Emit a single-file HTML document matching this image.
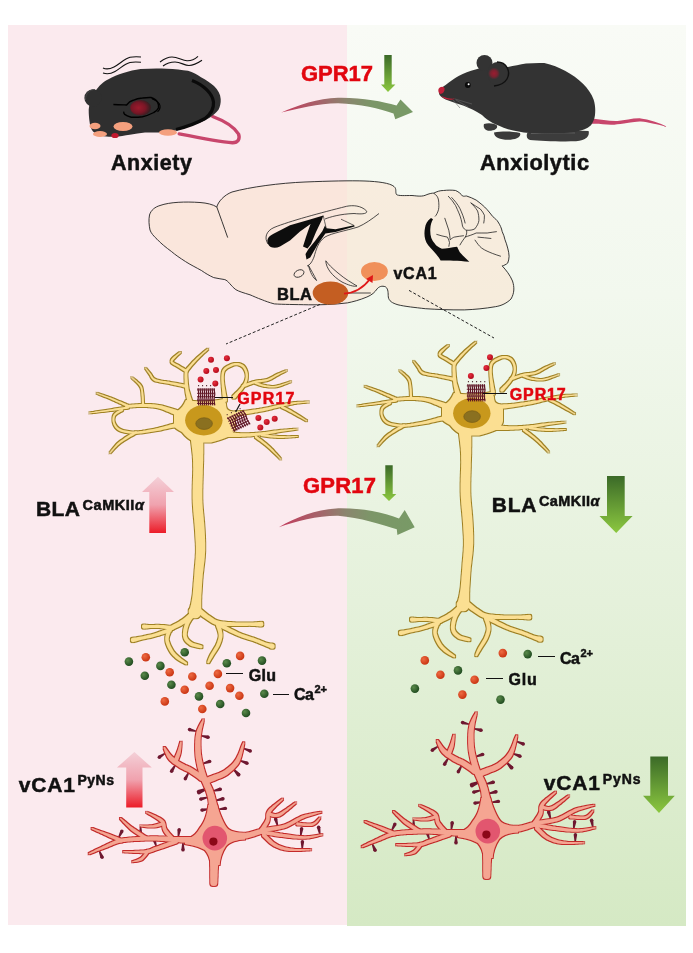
<!DOCTYPE html>
<html><head><meta charset="utf-8">
<style>
html,body{margin:0;padding:0;background:#fff;width:693px;height:953px;overflow:hidden}
svg{display:block;filter:blur(0.4px)}
text{font-family:"Liberation Sans",sans-serif;font-weight:bold;stroke-width:0.5px}
</style></head>
<body>
<svg width="693" height="953" viewBox="0 0 693 953">
<defs>

<linearGradient id="gbg" x1="0" y1="0" x2="0" y2="1">
<stop offset="0" stop-color="#f9fbf6"/>
<stop offset="0.3" stop-color="#f2f8ee"/>
<stop offset="0.64" stop-color="#e5f1db"/>
<stop offset="1" stop-color="#d5e9c4"/>
</linearGradient>
<linearGradient id="gdown" x1="0" y1="0" x2="0" y2="1">
<stop offset="0" stop-color="#3b6a28"/>
<stop offset="1" stop-color="#8cc840"/>
</linearGradient>
<linearGradient id="rup" x1="0" y1="0" x2="0" y2="1">
<stop offset="0" stop-color="#f4d0d8"/>
<stop offset="0.5" stop-color="#f0a2ae"/>
<stop offset="1" stop-color="#ec1c28"/>
</linearGradient>
<linearGradient id="carr" x1="0" y1="0" x2="1" y2="0">
<stop offset="0" stop-color="#c43c5c"/>
<stop offset="0.3" stop-color="#a4646a"/>
<stop offset="0.5" stop-color="#8a866e"/>
<stop offset="0.68" stop-color="#7c9668"/>
<stop offset="1" stop-color="#789a66"/>
</linearGradient>
<radialGradient id="gdot" cx="0.35" cy="0.35" r="0.7">
<stop offset="0" stop-color="#5a8a4a"/>
<stop offset="1" stop-color="#1f4a1f"/>
</radialGradient>
<radialGradient id="odot" cx="0.35" cy="0.35" r="0.7">
<stop offset="0" stop-color="#ee6a42"/>
<stop offset="1" stop-color="#c83210"/>
</radialGradient>
<radialGradient id="rdot" cx="0.35" cy="0.35" r="0.7">
<stop offset="0" stop-color="#e83040"/>
<stop offset="1" stop-color="#b00818"/>
</radialGradient>



<filter id="outY" x="-10%" y="-10%" width="120%" height="120%">
<feMorphology in="SourceAlpha" operator="dilate" radius="0.8" result="d"/>
<feFlood flood-color="#a08224"/>
<feComposite in2="d" operator="in" result="o"/>
<feMerge><feMergeNode in="o"/><feMergeNode in="SourceGraphic"/></feMerge>
</filter>
<filter id="outR" x="-10%" y="-10%" width="120%" height="120%">
<feMorphology in="SourceAlpha" operator="dilate" radius="0.8" result="d"/>
<feFlood flood-color="#c42a2a"/>
<feComposite in2="d" operator="in" result="o"/>
<feMerge><feMergeNode in="o"/><feMergeNode in="SourceGraphic"/></feMerge>
</filter>

<g id="blaN">
<g filter="url(#outY)"><g fill="#fbdf92">
<path d="M186 400 C195 402 212 402 224 399 L226 404 C226 408 227 410 230 411 C233 411.5 234.5 413 235 416 L235 428 C234.5 431 233 433 230 436 C224 439 217 441 211 442.5 L195 442.5 C190 440 186 437 182 432 C178 430 175 428 174 426 L174 413 C178 411 182 408 184 404 Z"/>
<path d="M192.4 401.4L192.0 400.5L191.6 399.2L191.1 397.8L190.6 396.2L190.1 394.5L189.6 392.8L189.1 391.2L188.7 389.7L188.5 388.2L188.3 386.7L188.1 385.1L187.9 383.6L187.8 382.1L187.7 380.6L187.6 379.2L187.5 378.0L187.4 375.7L187.4 373.7L187.5 372.0L187.5 370.8L184.9 370.6L184.8 371.8L184.6 373.5L184.5 375.7L184.5 378.0L184.6 379.3L184.6 380.7L184.6 382.2L184.7 383.8L184.8 385.4L184.9 387.1L185.1 388.7L185.3 390.3L185.5 392.0L185.8 393.7L186.2 395.5L186.5 397.3L186.9 399.0L187.2 400.5L187.5 401.7L187.6 402.6ZM184.9 370.7a1.33 1.33 0 1 0 2.66 0a1.33 1.33 0 1 0 -2.66 0ZM187.6 402.0a2.45 2.45 0 1 0 4.90 0a2.45 2.45 0 1 0 -4.90 0Z"/><path d="M186.9 369.9L185.9 369.4L184.6 368.7L183.1 367.8L181.5 366.9L179.9 365.9L178.5 365.1L176.9 364.2L175.2 363.4L173.8 362.6L172.8 361.9L172.5 361.5L172.7 360.7L173.7 359.4L175.2 357.9L176.6 356.6L178.1 355.1L179.6 353.7L180.7 352.7L180.1 352.1L178.9 352.8L177.2 354.0L175.4 355.4L174.0 356.6L172.4 358.1L171.0 359.8L170.5 361.7L171.3 363.2L172.7 364.3L174.3 365.2L175.9 366.0L177.5 366.9L178.8 367.8L180.3 368.8L181.9 369.8L183.4 370.7L184.7 371.5L185.5 372.1ZM180.0 352.4a0.42 0.42 0 1 0 0.84 0a0.42 0.42 0 1 0 -0.84 0ZM184.9 371.0a1.26 1.26 0 1 0 2.52 0a1.26 1.26 0 1 0 -2.52 0Z"/><path d="M187.2 371.8L187.9 370.9L188.9 369.6L190.0 368.2L191.3 366.6L192.6 365.1L193.8 363.7L194.9 362.5L196.0 361.3L197.1 360.1L198.2 358.9L199.4 357.8L200.6 356.6L201.7 355.5L202.9 354.3L204.2 353.1L205.5 352.0L206.6 350.9L207.6 350.0L208.3 349.3L207.7 348.7L207.0 349.3L205.9 350.1L204.7 351.1L203.3 352.1L202.0 353.3L200.6 354.4L199.4 355.4L198.2 356.5L197.0 357.6L195.8 358.8L194.6 359.9L193.4 361.1L192.2 362.3L191.0 363.7L189.6 365.2L188.3 366.7L187.0 368.1L186.0 369.3L185.2 370.2ZM207.6 349.0a0.42 0.42 0 1 0 0.84 0a0.42 0.42 0 1 0 -0.84 0ZM184.9 371.0a1.26 1.26 0 1 0 2.52 0a1.26 1.26 0 1 0 -2.52 0Z"/><path d="M185.3 384.6L184.4 384.5L183.2 384.3L181.9 384.0L180.3 383.8L178.7 383.5L177.0 383.1L175.2 382.8L173.5 382.5L171.8 382.2L170.2 381.9L168.6 381.6L167.0 381.4L165.3 381.1L163.7 380.9L162.0 380.7L160.5 380.4L159.0 380.1L157.6 379.8L156.4 379.5L155.5 379.1L153.9 378.3L153.0 377.3L152.2 376.1L151.5 374.8L150.6 373.5L149.3 372.0L148.0 370.4L146.8 368.9L145.9 367.9L145.3 368.5L146.0 369.5L147.0 371.1L148.2 372.8L149.4 374.5L150.1 375.6L150.7 376.9L151.5 378.3L152.8 379.7L154.5 380.9L155.8 381.4L157.1 381.8L158.6 382.1L160.1 382.4L161.7 382.7L163.4 383.0L165.0 383.3L166.7 383.5L168.3 383.8L169.8 384.1L171.3 384.4L173.0 384.8L174.7 385.2L176.5 385.6L178.2 385.9L179.8 386.3L181.3 386.6L182.7 386.9L183.8 387.2L184.7 387.4ZM145.2 368.2a0.42 0.42 0 1 0 0.84 0a0.42 0.42 0 1 0 -0.84 0ZM183.6 386.0a1.40 1.40 0 1 0 2.80 0a1.40 1.40 0 1 0 -2.80 0Z"/><path d="M181.0 411.4L180.1 411.1L179.1 410.8L177.9 410.5L176.6 410.0L175.1 409.5L173.5 409.0L171.9 408.5L170.2 407.9L168.5 407.4L166.7 406.9L165.1 406.4L163.4 406.0L161.9 405.6L160.4 405.3L158.7 405.0L157.0 404.7L155.4 404.5L153.7 404.3L152.2 404.2L150.6 404.1L149.1 404.1L147.6 404.0L146.1 404.0L144.5 404.0L143.0 404.0L141.4 404.0L139.7 404.1L138.0 404.2L136.2 404.3L134.4 404.4L132.8 404.6L131.2 404.7L129.7 404.8L128.4 405.0L127.3 405.1L126.4 405.1L126.6 407.7L127.5 407.6L128.6 407.6L129.9 407.5L131.4 407.4L133.0 407.3L134.6 407.2L136.3 407.1L138.1 407.0L139.8 407.0L141.4 406.9L143.0 407.0L144.5 407.0L146.0 407.1L147.5 407.1L149.0 407.2L150.4 407.3L151.9 407.4L153.4 407.6L154.9 407.8L156.4 408.0L158.0 408.3L159.6 408.7L160.9 409.1L162.3 409.6L163.8 410.1L165.4 410.7L167.0 411.4L168.7 412.0L170.3 412.7L171.8 413.4L173.3 414.1L174.8 414.7L176.1 415.3L177.2 415.8L178.2 416.3L179.0 416.6ZM125.2 406.4a1.26 1.26 0 1 0 2.52 0a1.26 1.26 0 1 0 -2.52 0ZM177.2 414.0a2.80 2.80 0 1 0 5.60 0a2.80 2.80 0 1 0 -5.60 0Z"/><path d="M128.5 405.0L127.6 404.6L126.5 404.2L125.2 403.6L123.7 403.0L122.2 402.3L120.5 401.6L118.8 400.9L117.1 400.2L115.4 399.5L113.8 398.8L112.3 398.2L110.7 397.6L108.9 397.0L107.1 396.3L105.3 395.7L103.5 395.1L101.8 394.5L100.2 393.9L98.8 393.5L97.7 393.1L96.7 392.8L96.5 393.4L97.4 393.8L98.5 394.3L99.9 394.9L101.4 395.5L103.1 396.2L104.8 396.9L106.6 397.6L108.4 398.3L110.1 399.1L111.7 399.8L113.2 400.4L114.7 401.1L116.4 401.9L118.1 402.6L119.7 403.4L121.4 404.1L122.9 404.9L124.3 405.5L125.6 406.1L126.7 406.6L127.5 407.0ZM126.9 406.0a1.12 1.12 0 1 0 2.24 0a1.12 1.12 0 1 0 -2.24 0Z"/><path d="M127.8 406.4L126.9 406.5L125.9 406.7L124.6 407.0L123.1 407.2L121.6 407.5L119.9 407.7L118.2 408.0L116.4 408.3L114.6 408.6L112.8 408.9L111.1 409.2L109.4 409.4L107.9 409.7L106.2 409.9L104.5 410.2L102.7 410.5L100.8 410.8L99.0 411.1L97.2 411.3L95.5 411.6L93.9 411.9L92.4 412.1L91.1 412.3L90.0 412.5L89.1 412.7L89.1 413.3L90.1 413.3L91.2 413.2L92.5 413.0L94.0 412.9L95.7 412.7L97.4 412.5L99.2 412.3L101.0 412.1L102.8 411.9L104.7 411.7L106.4 411.5L108.1 411.3L109.7 411.1L111.3 410.9L113.1 410.7L114.9 410.4L116.7 410.2L118.4 409.9L120.2 409.7L121.9 409.5L123.4 409.2L124.9 409.0L126.2 408.9L127.3 408.7L128.2 408.6ZM126.9 407.5a1.12 1.12 0 1 0 2.24 0a1.12 1.12 0 1 0 -2.24 0Z"/><path d="M144.1 405.0L144.1 403.9L144.0 402.3L143.9 400.5L143.8 398.6L143.7 396.6L143.5 394.9L143.3 393.3L143.1 391.8L142.9 390.3L142.6 388.7L142.1 387.1L141.2 385.6L140.3 384.3L139.0 383.1L137.7 381.9L136.3 380.6L134.9 379.5L133.6 378.5L132.5 377.7L131.7 377.0L131.3 377.6L132.0 378.3L133.0 379.2L134.2 380.3L135.5 381.5L136.8 382.8L138.0 384.1L139.0 385.3L139.8 386.4L140.5 387.8L140.9 389.2L141.1 390.6L141.3 392.0L141.4 393.5L141.5 395.1L141.7 396.8L141.8 398.7L141.8 400.6L141.9 402.4L141.9 403.9L141.9 405.0ZM141.9 405.0a1.12 1.12 0 1 0 2.24 0a1.12 1.12 0 1 0 -2.24 0Z"/><path d="M121.5 409.1L120.6 409.6L119.3 410.3L117.8 411.1L116.2 412.1L114.8 413.2L113.7 414.5L112.9 416.1L112.5 417.9L112.4 419.8L112.6 421.6L113.1 423.3L113.6 424.7L114.3 426.1L115.2 427.5L116.4 428.8L117.8 430.0L119.5 430.9L120.7 431.5L122.0 431.9L123.4 432.3L124.9 432.7L126.4 433.0L128.1 433.2L129.7 433.4L131.5 433.6L133.2 433.7L135.0 433.7L136.4 433.7L137.9 433.7L139.4 433.5L141.0 433.4L142.6 433.2L144.2 433.0L145.9 432.8L147.5 432.6L149.1 432.3L150.7 432.1L152.3 431.8L153.8 431.6L155.2 431.3L157.0 431.0L158.7 430.7L160.4 430.4L162.0 430.0L163.7 429.6L165.3 429.3L166.9 428.9L168.4 428.6L169.8 428.2L171.1 428.0L172.4 427.7L174.6 427.4L176.6 427.1L178.5 426.8L180.1 426.6L181.4 426.5L182.5 426.4L181.5 421.6L180.6 421.9L179.3 422.3L177.7 422.7L175.8 423.2L173.8 423.7L171.6 424.3L170.3 424.6L169.0 425.0L167.5 425.4L166.1 425.8L164.5 426.3L163.0 426.7L161.3 427.1L159.7 427.5L158.1 428.0L156.4 428.3L154.8 428.7L153.3 429.0L151.8 429.3L150.3 429.5L148.7 429.8L147.1 430.1L145.5 430.4L143.9 430.6L142.3 430.9L140.8 431.1L139.2 431.2L137.8 431.4L136.3 431.4L135.0 431.5L133.3 431.5L131.6 431.4L130.0 431.2L128.4 431.1L126.8 430.8L125.3 430.6L124.0 430.2L122.7 429.9L121.5 429.5L120.5 429.1L119.0 428.2L117.8 427.3L116.8 426.2L116.0 425.1L115.4 423.9L114.9 422.7L114.5 421.2L114.4 419.7L114.5 418.2L114.8 416.7L115.3 415.5L116.1 414.7L117.3 413.8L118.8 412.9L120.3 412.1L121.6 411.4L122.5 410.9ZM179.6 424.0a2.45 2.45 0 1 0 4.90 0a2.45 2.45 0 1 0 -4.90 0ZM121.0 410.0a1.05 1.05 0 1 0 2.10 0a1.05 1.05 0 1 0 -2.10 0Z"/><path d="M135.4 431.4L134.6 431.9L133.4 432.5L132.1 433.3L130.5 434.1L129.0 435.1L127.4 436.0L126.2 436.8L125.0 437.6L123.8 438.5L122.5 439.4L121.1 440.3L119.8 441.3L118.6 442.3L117.4 443.3L116.2 444.5L115.0 445.9L113.9 447.3L112.7 448.7L111.7 450.0L110.8 451.3L110.0 452.3L109.4 453.1L110.0 453.5L110.7 452.8L111.5 451.9L112.6 450.8L113.7 449.5L114.9 448.2L116.2 446.9L117.4 445.7L118.6 444.7L119.8 443.7L121.0 442.8L122.3 441.9L123.6 441.0L124.9 440.2L126.2 439.4L127.4 438.7L128.6 438.0L130.1 437.0L131.7 436.2L133.2 435.4L134.6 434.6L135.7 434.1L136.6 433.6ZM134.7 432.5a1.26 1.26 0 1 0 2.52 0a1.26 1.26 0 1 0 -2.52 0Z"/><path d="M227.1 399.7L226.9 398.8L226.6 397.6L226.3 396.2L226.0 394.6L225.7 392.9L225.4 391.2L225.1 389.4L224.8 387.8L224.5 386.2L224.3 384.9L224.1 382.8L223.9 380.9L223.8 379.2L223.8 377.6L223.8 376.1L223.9 374.8L224.1 373.0L224.5 371.6L225.0 370.6L226.1 369.4L227.1 368.6L228.6 367.8L230.2 366.9L231.9 366.2L233.5 365.6L235.0 365.3L236.5 365.2L238.1 365.3L239.5 365.7L240.8 366.2L241.9 366.9L242.9 367.8L243.7 369.0L244.4 370.3L245.0 371.8L245.4 373.2L245.6 374.7L245.7 376.2L245.6 377.7L245.3 379.2L244.9 380.7L244.4 382.0L243.8 383.2L243.0 384.5L242.1 385.8L241.0 387.2L240.1 388.3L239.0 389.4L237.9 390.7L236.6 391.9L235.4 393.1L234.3 394.2L233.4 395.1L232.7 395.8L235.3 398.2L235.9 397.4L236.7 396.4L237.7 395.3L238.9 394.0L240.0 392.6L241.1 391.2L242.2 389.9L243.0 388.8L244.1 387.2L245.1 385.8L245.9 384.3L246.5 382.9L247.1 381.3L247.5 379.7L247.8 378.0L247.9 376.2L247.9 374.5L247.6 372.8L247.1 371.1L246.5 369.4L245.6 367.8L244.5 366.3L243.3 365.1L241.8 364.2L240.2 363.5L238.4 363.1L236.5 363.0L234.6 363.1L232.9 363.5L231.1 364.1L229.2 364.9L227.5 365.8L225.9 366.8L224.5 367.8L223.2 369.2L222.3 370.8L221.8 372.5L221.5 374.4L221.4 376.0L221.3 377.6L221.3 379.3L221.4 381.1L221.5 383.1L221.7 385.1L221.7 386.5L221.9 388.1L222.0 389.8L222.2 391.6L222.3 393.4L222.5 395.1L222.6 396.7L222.8 398.2L222.9 399.4L222.9 400.3ZM232.2 397.0a1.75 1.75 0 1 0 3.50 0a1.75 1.75 0 1 0 -3.50 0ZM222.9 400.0a2.10 2.10 0 1 0 4.20 0a2.10 2.10 0 1 0 -4.20 0Z"/><path d="M243.4 387.2L244.3 386.8L245.6 386.4L247.0 385.9L248.6 385.3L250.3 384.7L252.0 384.1L253.7 383.5L255.3 383.1L256.8 382.7L258.4 382.5L260.0 382.2L261.7 382.0L263.3 381.8L264.9 381.5L266.5 381.2L268.0 380.7L269.8 380.0L271.5 379.2L273.0 378.3L274.4 377.4L275.9 376.5L277.4 375.7L278.8 374.9L280.3 374.1L281.9 373.3L283.5 372.5L284.9 371.7L286.1 371.1L287.0 370.6L286.6 370.0L285.7 370.4L284.5 370.9L283.0 371.5L281.4 372.2L279.8 372.9L278.1 373.6L276.6 374.3L275.1 375.1L273.6 376.0L272.1 376.8L270.6 377.6L269.1 378.3L267.4 378.9L266.0 379.2L264.6 379.5L263.0 379.7L261.4 379.9L259.7 380.1L258.0 380.3L256.4 380.6L254.7 380.9L253.1 381.3L251.3 381.9L249.5 382.4L247.8 383.0L246.2 383.6L244.7 384.1L243.5 384.5L242.6 384.8ZM241.7 386.0a1.26 1.26 0 1 0 2.52 0a1.26 1.26 0 1 0 -2.52 0Z"/><path d="M255.2 384.0L256.3 384.3L257.6 384.8L259.3 385.4L261.1 386.0L263.0 386.5L264.8 386.9L266.3 387.1L267.8 387.3L269.3 387.5L270.9 387.6L272.5 387.6L274.3 387.5L276.1 387.3L277.6 386.9L279.2 386.4L280.9 385.9L282.7 385.3L284.4 384.6L286.1 384.0L287.7 383.3L289.1 382.8L290.3 382.3L291.2 381.9L291.0 381.3L290.1 381.5L288.8 381.9L287.4 382.4L285.8 383.0L284.1 383.6L282.3 384.1L280.5 384.7L278.8 385.1L277.2 385.5L275.9 385.7L274.1 385.9L272.5 386.0L271.0 386.0L269.5 385.8L268.0 385.6L266.6 385.4L265.2 385.1L263.5 384.7L261.7 384.2L259.9 383.5L258.3 382.9L257.0 382.4L256.0 382.0ZM254.5 383.0a1.05 1.05 0 1 0 2.10 0a1.05 1.05 0 1 0 -2.10 0Z"/><path d="M228.2 416.4L229.1 416.3L230.2 416.1L231.5 416.0L233.0 415.8L234.6 415.6L236.3 415.4L238.1 415.2L239.9 414.9L241.7 414.7L243.5 414.4L245.2 414.2L246.7 413.9L248.3 413.7L249.9 413.5L251.5 413.2L253.2 412.9L254.8 412.6L256.5 412.4L258.1 412.1L259.7 411.8L261.3 411.5L262.8 411.2L264.3 410.9L266.0 410.5L267.6 410.2L269.2 409.8L270.8 409.4L272.3 409.0L273.8 408.6L275.3 408.2L276.7 407.9L278.2 407.5L279.7 407.2L281.3 406.8L282.9 406.4L284.4 406.1L286.0 405.7L287.6 405.4L289.1 405.0L290.6 404.7L292.2 404.4L293.7 404.1L295.1 403.9L296.8 403.6L298.5 403.4L300.3 403.2L302.1 403.0L303.9 402.9L305.5 402.7L306.9 402.6L308.1 402.5L309.0 402.3L309.0 401.7L308.0 401.6L306.8 401.6L305.4 401.6L303.8 401.7L302.1 401.7L300.2 401.8L298.4 401.8L296.6 402.0L294.9 402.1L293.4 402.3L291.8 402.5L290.3 402.8L288.7 403.0L287.1 403.3L285.6 403.6L284.0 403.9L282.4 404.2L280.8 404.5L279.3 404.8L277.7 405.1L276.2 405.5L274.7 405.8L273.2 406.1L271.7 406.5L270.2 406.8L268.6 407.2L267.0 407.5L265.4 407.8L263.7 408.1L262.3 408.4L260.8 408.6L259.2 408.9L257.6 409.1L256.0 409.4L254.4 409.6L252.7 409.8L251.1 410.1L249.5 410.3L247.9 410.5L246.3 410.7L244.8 410.8L243.1 411.0L241.4 411.1L239.6 411.2L237.8 411.3L236.0 411.3L234.3 411.4L232.7 411.5L231.2 411.5L229.9 411.5L228.7 411.6L227.8 411.6ZM225.6 414.0a2.45 2.45 0 1 0 4.90 0a2.45 2.45 0 1 0 -4.90 0Z"/><path d="M281.5 408.0L282.6 408.5L284.2 409.2L286.0 410.1L287.8 411.0L289.5 411.9L291.1 412.7L292.6 413.5L294.1 414.4L295.6 415.3L297.3 416.2L298.6 416.9L300.2 417.8L301.7 418.6L303.3 419.5L304.7 420.2L305.9 420.9L306.8 421.3L307.2 420.7L306.4 420.1L305.2 419.4L303.9 418.5L302.4 417.5L300.9 416.6L299.4 415.6L298.1 414.8L296.5 413.8L295.0 412.8L293.5 411.9L292.0 411.0L290.5 410.1L288.8 409.2L286.9 408.2L285.1 407.3L283.6 406.6L282.5 406.0ZM280.9 407.0a1.12 1.12 0 1 0 2.24 0a1.12 1.12 0 1 0 -2.24 0Z"/><path d="M224.9 436.9L225.8 436.9L226.9 436.9L228.2 436.9L229.6 436.9L231.2 436.9L232.9 436.9L234.6 436.9L236.4 436.9L238.2 436.9L240.0 436.9L241.8 436.8L243.5 436.8L245.0 436.7L246.7 436.6L248.3 436.5L250.0 436.4L251.6 436.3L253.3 436.1L254.9 436.0L256.5 435.8L258.1 435.6L259.6 435.5L261.2 435.3L262.7 435.1L264.2 434.9L265.9 434.6L267.6 434.4L269.2 434.1L270.7 433.8L272.3 433.5L273.8 433.2L275.4 432.9L276.9 432.6L278.5 432.3L280.1 432.0L281.7 431.8L283.5 431.5L285.3 431.2L287.1 430.9L289.0 430.7L290.8 430.4L292.6 430.2L294.2 429.9L295.6 429.7L296.8 429.5L297.7 429.3L297.7 428.7L296.7 428.7L295.5 428.8L294.0 428.8L292.4 429.0L290.7 429.1L288.8 429.2L287.0 429.4L285.1 429.5L283.2 429.7L281.5 429.8L279.9 430.0L278.2 430.2L276.6 430.4L275.0 430.6L273.4 430.8L271.9 431.1L270.3 431.3L268.8 431.5L267.2 431.7L265.5 431.9L263.8 432.1L262.4 432.3L260.9 432.4L259.3 432.5L257.8 432.7L256.2 432.8L254.6 432.9L253.0 433.0L251.4 433.1L249.8 433.2L248.2 433.2L246.6 433.3L245.0 433.3L243.4 433.3L241.8 433.2L240.1 433.2L238.3 433.1L236.5 433.0L234.8 432.8L233.0 432.7L231.4 432.6L229.8 432.5L228.4 432.4L227.1 432.2L226.0 432.1L225.1 432.1ZM222.6 434.5a2.45 2.45 0 1 0 4.90 0a2.45 2.45 0 1 0 -4.90 0Z"/><path d="M261.8 436.2L262.8 436.3L264.2 436.5L265.8 436.7L267.6 436.9L269.4 437.2L271.2 437.4L272.9 437.5L274.6 437.7L276.3 437.8L277.9 437.9L279.6 437.9L281.4 437.9L283.4 437.9L284.9 437.8L286.7 437.7L288.5 437.6L290.4 437.5L292.3 437.3L294.1 437.2L295.7 437.1L297.0 437.0L298.0 436.8L298.0 436.2L297.0 436.1L295.6 436.1L294.0 436.1L292.3 436.1L290.4 436.2L288.5 436.2L286.6 436.2L284.9 436.1L283.4 436.1L281.4 436.1L279.7 436.0L278.0 435.9L276.4 435.8L274.8 435.6L273.1 435.5L271.5 435.3L269.7 435.0L267.9 434.7L266.1 434.5L264.5 434.2L263.2 434.0L262.2 433.8ZM260.8 435.0a1.19 1.19 0 1 0 2.38 0a1.19 1.19 0 1 0 -2.38 0Z"/><path d="M255.3 438.0L256.2 438.6L257.4 439.4L258.8 440.5L260.4 441.6L261.9 442.7L263.3 443.8L264.5 444.7L265.6 445.6L266.7 446.6L267.9 447.5L269.0 448.5L270.2 449.5L271.4 450.7L272.5 451.7L273.8 452.9L275.2 454.2L276.5 455.6L277.8 456.8L279.0 458.0L280.0 458.9L280.7 459.6L281.3 459.2L280.6 458.4L279.7 457.3L278.6 456.1L277.5 454.7L276.2 453.3L274.9 451.9L273.7 450.5L272.6 449.3L271.4 448.2L270.3 447.1L269.1 446.1L268.0 445.1L266.9 444.1L265.8 443.1L264.7 442.2L263.2 441.0L261.7 439.8L260.2 438.7L258.7 437.6L257.6 436.7L256.7 436.0ZM254.8 437.0a1.19 1.19 0 1 0 2.38 0a1.19 1.19 0 1 0 -2.38 0Z"/><path d="M190.7 438.4L190.9 439.3L191.0 440.5L191.2 441.9L191.4 443.4L191.6 445.1L191.8 446.8L192.0 448.6L192.2 450.4L192.4 452.1L192.6 453.7L192.8 455.2L192.8 456.6L192.9 458.0L193.0 459.2L193.0 460.4L193.1 461.7L193.1 463.0L193.1 464.4L193.1 466.0L193.2 467.8L193.2 469.9L193.2 471.1L193.1 472.3L193.1 473.6L193.1 474.9L193.0 476.3L193.0 477.7L192.9 479.2L192.9 480.8L192.8 482.3L192.8 483.9L192.7 485.5L192.7 487.2L192.7 488.8L192.6 490.5L192.6 492.1L192.6 493.7L192.6 495.4L192.6 497.0L192.6 498.6L192.7 500.1L192.7 501.7L192.8 503.3L192.9 504.9L193.0 506.4L193.1 508.0L193.2 509.6L193.3 511.2L193.5 512.8L193.6 514.4L193.8 515.9L193.9 517.5L194.1 519.0L194.2 520.5L194.3 522.0L194.5 523.5L194.6 524.9L194.7 526.3L194.8 527.7L194.9 529.0L195.0 530.3L195.1 532.1L195.2 533.8L195.3 535.5L195.4 537.1L195.5 538.6L195.6 540.2L195.7 541.6L195.8 543.1L195.8 544.5L195.9 545.9L195.9 547.4L195.9 548.8L195.9 550.3L195.9 551.9L195.9 553.3L195.8 554.8L195.7 556.3L195.7 557.8L195.6 559.3L195.4 560.9L195.3 562.4L195.2 564.0L195.0 565.5L194.9 567.1L194.8 568.6L194.6 570.1L194.5 571.7L194.4 573.2L194.3 574.7L194.2 576.3L194.0 578.0L193.9 579.7L193.8 581.4L193.6 583.0L193.5 584.6L193.4 586.2L193.3 587.8L193.1 589.3L193.0 590.7L192.9 592.1L192.8 593.4L192.7 594.7L192.4 596.7L192.1 598.6L191.8 600.2L191.6 601.7L191.3 603.0L191.1 604.2L190.8 605.3L190.3 607.2L189.8 608.7L189.2 609.9L188.8 610.8L201.2 613.2L201.1 612.2L201.1 610.7L201.2 608.8L201.2 606.7L201.2 605.3L201.2 604.0L201.2 602.6L201.2 601.0L201.2 599.3L201.3 597.4L201.3 595.3L201.4 594.1L201.5 592.8L201.6 591.4L201.7 589.9L201.8 588.4L201.9 586.9L202.0 585.3L202.1 583.6L202.2 582.0L202.3 580.3L202.4 578.7L202.6 577.0L202.7 575.3L202.8 573.9L203.0 572.5L203.2 571.0L203.4 569.5L203.5 568.0L203.7 566.4L203.9 564.9L204.1 563.3L204.3 561.7L204.5 560.1L204.6 558.5L204.8 556.9L204.9 555.3L205.0 553.7L205.1 552.1L205.2 550.5L205.2 548.9L205.2 547.3L205.2 545.8L205.2 544.3L205.2 542.8L205.1 541.2L205.1 539.7L205.0 538.2L205.0 536.6L204.9 535.0L204.8 533.3L204.7 531.5L204.6 529.7L204.5 528.4L204.4 527.0L204.3 525.5L204.2 524.1L204.1 522.6L203.9 521.2L203.8 519.6L203.7 518.1L203.5 516.6L203.4 515.1L203.2 513.5L203.1 512.0L203.0 510.4L202.8 508.9L202.7 507.3L202.6 505.8L202.5 504.3L202.4 502.8L202.4 501.3L202.3 499.9L202.3 498.4L202.3 496.9L202.3 495.3L202.3 493.8L202.3 492.2L202.3 490.6L202.3 489.0L202.4 487.4L202.4 485.8L202.4 484.2L202.5 482.6L202.5 481.1L202.6 479.5L202.6 478.1L202.7 476.6L202.7 475.2L202.8 473.8L202.8 472.5L202.8 471.2L202.8 470.1L202.9 468.0L203.0 466.1L203.0 464.5L203.1 463.1L203.1 461.7L203.2 460.4L203.2 459.1L203.2 457.8L203.2 456.4L203.2 454.8L203.3 453.2L203.3 451.5L203.3 449.7L203.3 447.9L203.3 446.1L203.3 444.3L203.2 442.6L203.2 441.1L203.2 439.7L203.2 438.5L203.3 437.6ZM188.7 612.0a6.30 6.30 0 1 0 12.60 0a6.30 6.30 0 1 0 -12.60 0ZM190.7 438.0a6.30 6.30 0 1 0 12.60 0a6.30 6.30 0 1 0 -12.60 0Z"/><path d="M192.9 609.7L192.2 610.4L191.3 611.3L190.2 612.5L189.0 613.7L187.8 614.9L186.6 616.0L185.5 617.0L184.2 618.0L183.0 618.9L181.8 619.7L180.5 620.6L179.2 621.4L177.8 622.2L176.5 623.0L174.9 623.8L173.3 624.6L171.7 625.4L170.3 626.1L169.0 626.7L168.1 627.1L169.9 630.9L170.8 630.5L172.1 629.9L173.6 629.2L175.2 628.5L176.9 627.7L178.5 626.9L180.0 626.2L181.5 625.4L182.9 624.6L184.4 623.7L185.7 622.9L187.1 622.0L188.5 621.0L189.9 620.1L191.3 619.0L192.7 617.8L194.1 616.7L195.3 615.7L196.3 614.9L197.1 614.3ZM166.9 629.0a2.07 2.07 0 1 0 4.14 0a2.07 2.07 0 1 0 -4.14 0ZM191.8 612.0a3.15 3.15 0 1 0 6.30 0a3.15 3.15 0 1 0 -6.30 0Z"/><path d="M172.3 626.0L171.3 626.0L170.1 625.8L168.5 625.7L166.9 625.5L165.1 625.3L163.3 625.1L161.6 625.0L160.1 624.9L158.2 624.8L156.4 624.8L154.6 624.9L152.9 625.0L151.4 625.0L150.0 625.1L148.1 624.9L146.4 624.8L145.0 624.7L144.0 624.5L144.0 628.7L145.0 628.5L146.4 628.4L148.1 628.3L150.0 628.1L151.5 628.1L153.0 628.1L154.7 628.0L156.4 628.0L158.1 628.0L159.9 628.1L161.3 628.3L162.9 628.5L164.7 628.8L166.4 629.0L168.0 629.3L169.5 629.6L170.8 629.8L171.7 630.0ZM141.9 626.6a2.07 2.07 0 1 0 4.14 0a2.07 2.07 0 1 0 -4.14 0ZM170.0 628.0a1.98 1.98 0 1 0 3.96 0a1.98 1.98 0 1 0 -3.96 0Z"/><path d="M169.4 628.1L168.5 628.5L167.3 628.9L165.9 629.4L164.4 630.0L162.7 630.6L161.0 631.2L159.3 631.8L157.6 632.4L156.0 633.0L154.6 633.4L152.8 633.9L151.1 634.4L149.4 634.8L147.8 635.1L146.2 635.5L144.6 635.8L143.1 636.2L141.7 636.5L139.8 636.8L138.0 637.1L136.3 637.4L134.8 637.6L133.5 637.8L132.5 637.9L133.5 642.1L134.4 641.8L135.6 641.4L137.1 641.0L138.7 640.5L140.5 640.0L142.3 639.5L143.7 639.2L145.2 638.9L146.8 638.6L148.5 638.2L150.2 637.9L151.9 637.5L153.7 637.0L155.4 636.6L157.0 636.1L158.6 635.7L160.4 635.1L162.1 634.6L163.9 634.0L165.6 633.5L167.2 633.0L168.6 632.5L169.7 632.1L170.6 631.9ZM130.8 640.0a2.16 2.16 0 1 0 4.32 0a2.16 2.16 0 1 0 -4.32 0ZM168.0 630.0a1.98 1.98 0 1 0 3.96 0a1.98 1.98 0 1 0 -3.96 0Z"/><path d="M167.2 630.4L166.9 631.4L166.5 632.7L166.0 634.3L165.5 636.1L165.2 638.2L165.3 640.2L165.6 641.9L166.1 643.7L166.8 645.4L167.5 647.2L168.4 648.9L169.2 650.5L170.1 651.9L171.1 653.4L172.2 654.8L173.3 656.0L174.5 657.1L175.7 658.2L177.0 659.3L178.5 660.3L180.1 661.3L181.8 662.2L183.4 663.1L184.7 663.8L185.7 664.2L186.7 662.6L185.9 661.9L184.6 661.0L183.2 660.0L181.7 658.9L180.3 657.8L179.0 656.7L177.9 655.7L176.8 654.7L175.7 653.7L174.7 652.6L173.8 651.4L172.9 650.1L172.2 648.8L171.4 647.3L170.6 645.8L170.0 644.2L169.4 642.6L168.9 641.1L168.7 639.8L168.7 638.4L169.0 636.9L169.4 635.3L170.0 633.9L170.5 632.5L170.8 631.6ZM185.2 663.4a0.99 0.99 0 1 0 1.98 0a0.99 0.99 0 1 0 -1.98 0ZM167.1 631.0a1.89 1.89 0 1 0 3.78 0a1.89 1.89 0 1 0 -3.78 0Z"/><path d="M191.1 612.8L190.6 613.6L189.8 614.8L188.9 616.3L187.8 617.9L186.8 619.7L185.9 621.5L185.2 623.3L184.6 624.9L184.1 626.5L183.7 628.2L183.3 630.0L183.1 631.8L182.9 633.5L182.9 635.2L183.2 636.8L183.8 638.7L184.7 640.4L185.9 641.9L187.2 643.2L188.6 644.3L190.1 645.4L191.9 646.2L193.9 646.8L196.0 647.3L197.9 647.7L199.5 648.0L200.7 648.2L201.3 645.2L200.2 644.9L198.6 644.5L196.8 644.1L194.9 643.6L193.2 643.0L191.9 642.2L190.8 641.4L189.6 640.5L188.6 639.5L187.8 638.4L187.2 637.2L186.8 636.0L186.7 635.0L186.8 633.7L186.9 632.3L187.2 630.7L187.5 629.1L187.9 627.6L188.4 626.1L188.8 624.7L189.5 623.2L190.4 621.7L191.4 620.1L192.4 618.7L193.4 617.3L194.3 616.1L194.9 615.2ZM199.5 646.7a1.53 1.53 0 1 0 3.06 0a1.53 1.53 0 1 0 -3.06 0ZM190.8 614.0a2.25 2.25 0 1 0 4.50 0a2.25 2.25 0 1 0 -4.50 0Z"/><path d="M196.3 612.1L197.3 612.8L198.7 613.9L200.3 615.1L201.9 616.3L203.1 617.2L204.4 618.1L205.8 619.1L207.3 620.1L208.7 621.0L209.9 621.7L211.0 622.4L212.2 623.2L213.7 624.0L215.5 624.7L217.6 625.2L219.0 625.4L220.5 625.6L222.0 625.7L223.6 625.8L225.3 625.8L227.0 625.9L228.8 625.9L230.5 626.0L232.1 626.0L233.7 626.0L235.2 626.0L237.0 626.0L238.8 626.0L240.5 626.0L242.2 626.0L243.9 626.0L245.5 625.9L247.1 625.9L248.6 625.8L250.0 625.8L251.9 625.9L253.7 626.0L255.6 626.1L257.2 626.2L258.8 626.3L260.0 626.4L261.0 626.5L261.0 621.9L260.0 622.0L258.8 622.1L257.2 622.2L255.6 622.3L253.7 622.4L251.9 622.5L250.0 622.6L248.5 622.6L247.0 622.6L245.4 622.6L243.8 622.6L242.2 622.6L240.5 622.5L238.8 622.5L237.1 622.5L235.4 622.4L233.9 622.3L232.3 622.2L230.6 622.1L228.9 622.0L227.2 621.9L225.6 621.8L223.9 621.6L222.4 621.4L221.0 621.3L219.7 621.0L218.6 620.8L216.9 620.3L215.6 619.8L214.5 619.2L213.5 618.6L212.4 617.8L211.3 617.0L209.9 616.1L208.6 615.2L207.3 614.2L206.1 613.2L204.9 612.3L203.4 611.1L201.9 609.8L200.6 608.7L199.7 607.9ZM258.7 624.2a2.34 2.34 0 1 0 4.68 0a2.34 2.34 0 1 0 -4.68 0ZM195.3 610.0a2.70 2.70 0 1 0 5.40 0a2.70 2.70 0 1 0 -5.40 0Z"/><path d="M217.1 625.8L217.9 626.2L218.9 626.7L220.1 627.3L221.4 628.0L222.8 628.7L224.3 629.5L226.0 630.3L227.6 631.1L229.3 632.0L230.9 632.8L232.6 633.5L234.2 634.3L235.7 635.0L237.1 635.6L238.7 636.2L240.3 636.8L241.9 637.4L243.4 638.0L245.0 638.5L246.5 639.0L248.0 639.4L249.4 639.9L250.8 640.3L252.1 640.7L253.3 641.1L254.4 641.5L256.2 642.2L257.9 642.8L259.3 643.4L260.7 644.0L261.9 644.5L263.2 645.0L264.5 645.5L266.6 646.5L268.6 647.3L270.3 648.1L271.4 648.6L272.8 643.8L271.5 643.6L269.8 643.4L267.7 643.0L265.5 642.5L264.4 642.0L263.2 641.5L261.9 641.0L260.6 640.5L259.1 639.8L257.4 639.2L255.6 638.5L254.4 638.0L253.1 637.6L251.8 637.2L250.4 636.7L249.0 636.3L247.5 635.8L246.0 635.3L244.5 634.8L243.0 634.2L241.5 633.7L240.0 633.1L238.5 632.4L237.1 631.8L235.7 631.1L234.2 630.3L232.6 629.5L230.9 628.7L229.3 627.8L227.7 626.9L226.1 626.1L224.6 625.3L223.2 624.5L221.9 623.8L220.7 623.2L219.8 622.6L218.9 622.2ZM269.6 646.2a2.52 2.52 0 1 0 5.04 0a2.52 2.52 0 1 0 -5.04 0ZM215.9 624.0a2.07 2.07 0 1 0 4.14 0a2.07 2.07 0 1 0 -4.14 0Z"/><path d="M216.0 625.6L216.4 626.7L217.0 628.2L217.6 630.0L218.1 631.8L218.5 633.5L218.7 635.0L218.7 636.5L218.5 638.0L218.1 639.5L217.6 641.1L217.1 642.7L216.4 644.3L215.8 645.7L215.0 647.1L214.1 648.5L213.2 650.0L212.3 651.5L211.4 652.9L210.6 654.2L209.7 656.0L208.9 657.8L208.2 659.4L207.7 660.7L207.3 661.7L209.3 662.7L209.8 661.8L210.6 660.5L211.4 659.1L212.4 657.4L213.4 655.8L214.2 654.6L215.0 653.2L216.0 651.8L217.0 650.3L217.9 648.8L218.8 647.2L219.6 645.7L220.3 644.0L221.0 642.2L221.6 640.5L222.0 638.7L222.4 636.9L222.5 635.0L222.3 632.9L221.9 630.8L221.4 628.8L220.8 626.9L220.3 625.4L220.0 624.4ZM207.2 662.2a1.08 1.08 0 1 0 2.16 0a1.08 1.08 0 1 0 -2.16 0ZM215.9 625.0a2.07 2.07 0 1 0 4.14 0a2.07 2.07 0 1 0 -4.14 0Z"/>
</g></g>
<ellipse cx="203.8" cy="420.3" rx="18.7" ry="15.2" fill="#c8981c"/>
<ellipse cx="204.1" cy="423.6" rx="8.3" ry="5.8" fill="#8a7020" stroke="#7a6018" stroke-width="0.8"/>
</g>
<g id="vcaN">
<g fill="#6e1830"><path d="M197.4 731.0L189.9 727.9L189.1 731.2L197.1 732.1Z"/><circle cx="189.5" cy="729.5" r="1.7"/><path d="M200.1 736.1L207.7 738.9L208.4 735.5L200.4 734.9Z"/><circle cx="208.1" cy="737.2" r="1.7"/><path d="M165.7 752.3L158.4 755.7L160.2 758.6L166.3 753.3Z"/><circle cx="159.3" cy="757.2" r="1.7"/><path d="M175.2 764.1L170.1 770.3L173.0 772.1L176.3 764.7Z"/><circle cx="171.6" cy="771.2" r="1.7"/><path d="M188.5 771.5L183.8 778.0L186.8 779.6L189.6 772.0Z"/><circle cx="185.3" cy="778.8" r="1.7"/><path d="M202.3 764.4L210.3 763.0L209.2 759.8L201.9 763.3Z"/><circle cx="209.7" cy="761.4" r="1.7"/><path d="M242.6 748.8L249.7 752.6L250.9 749.4L243.0 747.6Z"/><circle cx="250.3" cy="751.0" r="1.7"/><path d="M239.2 761.0L246.4 764.8L247.5 761.6L239.7 759.8Z"/><circle cx="247.0" cy="763.2" r="1.7"/><path d="M232.8 769.3L237.6 775.8L240.0 773.5L233.7 768.5Z"/><circle cx="238.8" cy="774.6" r="1.7"/><path d="M205.5 787.9L197.7 790.1L199.1 793.2L205.9 789.0Z"/><circle cx="198.4" cy="791.7" r="1.7"/><path d="M212.6 791.7L220.7 790.9L219.9 787.6L212.4 790.6Z"/><circle cx="220.3" cy="789.3" r="1.7"/><path d="M215.4 801.2L223.4 800.4L222.7 797.1L215.1 800.0Z"/><circle cx="223.0" cy="798.8" r="1.7"/><path d="M217.5 810.0L225.6 810.1L225.1 806.7L217.4 808.9Z"/><circle cx="225.4" cy="808.4" r="1.7"/><path d="M208.3 796.5L200.3 797.4L201.1 800.7L208.6 797.7Z"/><circle cx="200.7" cy="799.1" r="1.7"/><path d="M209.7 808.3L201.6 808.4L202.1 811.7L209.9 809.5Z"/><circle cx="201.9" cy="810.1" r="1.7"/><path d="M206.0 789.1L198.2 791.1L199.4 794.2L206.4 790.3Z"/><circle cx="198.8" cy="792.7" r="1.7"/><path d="M118.9 838.6L123.4 831.9L120.4 830.4L117.8 838.0Z"/><circle cx="121.9" cy="831.1" r="1.7"/><path d="M98.3 850.1L100.5 857.9L103.6 856.5L99.4 849.7Z"/><circle cx="102.1" cy="857.2" r="1.7"/><path d="M140.0 825.9L138.9 833.9L142.3 833.9L141.2 825.9Z"/><circle cx="140.6" cy="833.9" r="1.7"/><path d="M157.1 847.1L155.7 839.1L152.5 840.1L156.0 847.4Z"/><circle cx="154.1" cy="839.6" r="1.7"/><path d="M178.8 837.8L180.9 830.0L177.5 829.6L177.6 837.6Z"/><circle cx="179.2" cy="829.8" r="1.7"/><path d="M182.3 841.9L181.3 849.9L184.7 849.8L183.5 841.8Z"/><circle cx="183.0" cy="849.9" r="1.7"/><path d="M278.4 826.5L277.3 818.5L274.0 819.4L277.2 826.8Z"/><circle cx="275.6" cy="819.0" r="1.7"/><path d="M301.2 836.7L303.3 828.9L299.9 828.5L300.0 836.6Z"/><circle cx="301.6" cy="828.7" r="1.7"/><path d="M320.6 835.0L320.3 826.9L316.9 827.5L319.4 835.2Z"/><circle cx="318.6" cy="827.2" r="1.7"/><path d="M302.8 849.7L304.1 841.7L300.7 841.7L301.6 849.7Z"/><circle cx="302.4" cy="841.7" r="1.7"/><path d="M232.8 769.4L237.2 776.1L239.8 773.8L233.6 768.6Z"/><circle cx="238.5" cy="774.9" r="1.7"/></g>
<g filter="url(#outR)"><g fill="#f5a592"><path d="M208.4 805 C207 815 205 822 200 828 C197 833 194 836 190 838 L185 838.5 L185 844 C192 845 200 847 205 850 C208 853 210 858 211 865 L219.6 865 C220 858 222 852 226 846 C230 842 236 840 245 839.6 L245 832.7 C238 833 232 832 228 829 C224 825 220 815 217 805 Z"/><path d="M223.0 834.7L222.7 833.9L222.4 832.8L222.2 831.5L221.9 830.0L221.6 828.3L221.3 826.6L221.0 824.8L220.7 823.0L220.4 821.2L220.0 819.4L219.7 817.7L219.3 816.1L219.0 814.6L218.7 812.8L218.4 811.1L218.1 809.4L217.7 807.8L217.4 806.2L217.0 804.7L216.6 803.3L216.2 801.9L215.9 800.6L215.5 799.3L215.0 797.3L214.6 795.6L214.1 794.0L213.6 792.4L213.0 790.7L212.3 788.8L211.7 787.4L211.0 786.0L210.4 784.7L209.7 783.3L208.9 781.9L208.2 780.5L207.6 779.0L206.9 777.5L206.3 776.0L205.9 774.7L205.4 773.2L204.9 771.7L204.5 770.2L204.0 768.7L203.6 767.1L203.2 765.5L202.8 763.9L202.4 762.4L202.1 760.9L201.8 759.5L201.5 758.0L201.3 756.5L201.1 755.0L200.9 753.5L200.8 752.0L200.7 750.6L200.6 749.2L200.6 747.8L200.5 746.4L200.5 745.0L200.5 743.3L200.5 741.7L200.5 740.1L200.6 738.5L200.7 737.0L200.9 735.5L201.1 734.0L201.3 732.5L201.5 730.9L201.8 729.2L202.2 727.4L202.6 725.7L203.0 724.0L203.4 722.4L203.6 721.1L203.8 720.1L202.6 719.7L202.1 720.5L201.4 721.7L200.6 723.0L199.8 724.6L198.9 726.3L198.1 728.0L197.3 729.8L196.7 731.5L196.3 733.1L196.0 734.8L195.7 736.4L195.5 738.1L195.4 739.8L195.2 741.5L195.2 743.2L195.1 745.0L195.1 746.4L195.1 747.9L195.1 749.4L195.2 750.9L195.3 752.5L195.4 754.0L195.5 755.6L195.7 757.2L195.9 758.8L196.2 760.5L196.5 762.0L196.8 763.6L197.1 765.3L197.5 766.9L197.9 768.6L198.4 770.2L198.8 771.8L199.3 773.4L199.7 775.0L200.2 776.5L200.7 778.0L201.3 779.7L201.9 781.4L202.6 783.0L203.3 784.6L203.9 786.0L204.6 787.4L205.2 788.7L205.7 790.0L206.1 791.2L206.7 792.9L207.1 794.4L207.5 795.8L207.9 797.2L208.2 798.8L208.5 800.7L208.6 802.0L208.8 803.3L208.9 804.7L209.0 806.1L209.1 807.5L209.2 809.0L209.3 810.5L209.3 812.1L209.4 813.7L209.4 815.4L209.3 816.8L209.1 818.3L209.0 820.0L208.8 821.7L208.6 823.5L208.4 825.3L208.2 827.0L208.0 828.7L207.8 830.3L207.6 831.8L207.4 833.2L207.2 834.4L207.0 835.3ZM202.6 719.9a0.60 0.60 0 1 0 1.20 0a0.60 0.60 0 1 0 -1.20 0ZM207.0 835.0a8.00 8.00 0 1 0 16.00 0a8.00 8.00 0 1 0 -16.00 0Z"/><path d="M203.7 775.5L202.8 775.0L201.7 774.3L200.4 773.4L198.9 772.4L197.3 771.4L195.7 770.4L194.1 769.4L192.6 768.5L191.3 767.7L189.6 766.8L188.1 766.2L186.8 765.6L185.6 765.2L184.4 764.6L183.0 763.8L181.9 763.2L180.6 762.5L179.3 761.7L178.0 760.9L176.7 760.0L175.4 759.1L174.3 758.2L173.2 757.3L172.2 756.5L171.2 755.5L170.1 754.3L169.1 753.0L168.1 751.6L167.2 750.3L166.3 749.1L165.6 748.1L165.0 747.3L163.6 748.1L163.9 749.0L164.3 750.1L164.8 751.5L165.4 753.1L166.2 754.7L167.0 756.4L167.9 758.0L169.0 759.5L170.1 760.7L171.3 761.8L172.6 762.9L174.0 763.9L175.4 764.8L176.7 765.7L178.0 766.6L179.3 767.4L180.4 768.2L182.0 769.1L183.5 769.8L184.8 770.4L186.0 770.9L187.3 771.5L188.7 772.3L189.8 773.0L191.2 773.9L192.7 774.9L194.2 776.0L195.7 777.1L197.1 778.1L198.4 779.1L199.5 779.9L200.3 780.5ZM163.6 747.7a0.75 0.75 0 1 0 1.50 0a0.75 0.75 0 1 0 -1.50 0ZM199.0 778.0a3.00 3.00 0 1 0 6.00 0a3.00 3.00 0 1 0 -6.00 0Z"/><path d="M177.9 760.8L178.3 759.7L178.9 758.2L179.5 756.4L180.2 754.4L180.7 752.5L181.0 750.7L181.2 748.8L181.4 746.8L181.5 745.0L181.6 743.4L181.6 742.3L180.4 742.1L180.0 743.1L179.5 744.6L179.0 746.4L178.4 748.2L177.9 750.0L177.3 751.5L176.7 753.2L175.9 755.0L175.2 756.7L174.5 758.2L174.1 759.2ZM180.4 742.2a0.60 0.60 0 1 0 1.20 0a0.60 0.60 0 1 0 -1.20 0ZM173.9 760.0a2.10 2.10 0 1 0 4.20 0a2.10 2.10 0 1 0 -4.20 0Z"/><path d="M207.1 783.8L208.0 783.4L209.2 782.9L210.6 782.3L212.2 781.6L213.9 780.9L215.5 780.2L217.0 779.5L218.4 779.0L219.8 778.4L221.3 777.9L222.8 777.2L224.4 776.5L226.1 775.5L227.7 774.4L228.8 773.5L230.0 772.6L231.2 771.6L232.4 770.5L233.6 769.4L234.9 768.1L236.0 766.8L237.2 765.4L238.3 763.9L239.2 762.4L239.9 760.8L240.5 759.2L241.1 757.4L241.7 755.6L242.1 753.7L242.6 751.8L243.0 750.0L243.4 748.3L243.7 746.7L244.0 745.3L244.2 744.1L244.4 743.2L243.0 742.8L242.6 743.7L242.1 744.8L241.6 746.1L241.0 747.6L240.4 749.3L239.8 751.0L239.1 752.7L238.4 754.4L237.6 756.1L236.9 757.6L236.1 758.9L235.4 760.0L234.5 761.3L233.6 762.5L232.5 763.7L231.5 764.8L230.3 765.8L229.2 766.8L228.0 767.7L226.9 768.6L225.7 769.4L224.7 770.2L223.3 771.1L222.0 771.8L220.7 772.3L219.4 772.9L217.9 773.4L216.5 773.9L215.0 774.5L213.4 775.1L211.8 775.7L210.1 776.3L208.5 776.9L207.1 777.4L205.8 777.9L204.9 778.2ZM243.0 743.0a0.70 0.70 0 1 0 1.40 0a0.70 0.70 0 1 0 -1.40 0ZM203.0 781.0a3.00 3.00 0 1 0 6.00 0a3.00 3.00 0 1 0 -6.00 0Z"/><path d="M209.0 844.7L209.2 845.7L209.3 847.0L209.5 848.5L209.6 850.3L209.7 852.1L209.9 854.0L210.0 855.8L210.0 857.3L210.1 858.8L210.1 860.3L210.1 861.9L210.1 863.6L210.1 865.2L210.2 866.8L210.2 868.4L210.3 869.9L210.2 871.6L210.2 873.5L210.2 875.3L210.2 877.1L210.3 878.7L210.3 880.2L210.3 881.5L210.3 882.5L217.3 882.5L217.3 881.6L217.4 880.3L217.4 878.8L217.5 877.2L217.6 875.4L217.6 873.6L217.7 871.8L217.7 870.1L217.9 868.6L218.0 867.1L218.1 865.5L218.3 863.9L218.4 862.3L218.6 860.7L218.7 859.1L218.9 857.6L219.0 856.2L219.3 854.4L219.6 852.5L219.9 850.7L220.2 849.0L220.5 847.5L220.7 846.2L221.0 845.3ZM210.3 882.5a3.50 3.50 0 1 0 7.00 0a3.50 3.50 0 1 0 -7.00 0ZM209.0 845.0a6.00 6.00 0 1 0 12.00 0a6.00 6.00 0 1 0 -12.00 0Z"/><path d="M205.3 836.0L204.4 836.1L203.2 836.3L201.8 836.4L200.2 836.5L198.5 836.5L196.8 836.6L195.0 836.7L193.3 836.8L191.6 836.9L190.2 837.0L188.5 837.0L187.0 837.0L185.6 837.0L184.3 837.1L182.9 837.1L181.4 837.1L179.9 837.1L178.1 837.1L176.8 837.1L175.4 837.0L174.0 836.9L172.5 836.9L170.9 836.8L169.3 836.7L167.7 836.7L166.1 836.6L164.5 836.5L163.0 836.5L161.5 836.4L160.1 836.4L158.4 836.4L156.8 836.3L155.4 836.3L153.9 836.3L152.5 836.3L151.0 836.3L149.3 836.4L147.5 836.5L145.5 836.6L144.2 836.7L142.9 836.8L141.5 836.8L140.0 836.9L138.4 837.0L136.8 837.1L135.1 837.2L133.5 837.3L131.8 837.5L130.2 837.6L128.5 837.8L126.9 837.9L125.4 838.1L123.8 838.3L122.4 838.6L121.0 838.8L119.2 839.3L117.5 839.8L115.9 840.3L114.3 840.9L112.9 841.5L111.5 842.2L110.1 842.8L108.8 843.5L107.4 844.1L106.1 844.8L104.7 845.4L103.2 846.1L101.6 846.9L99.9 847.7L98.2 848.5L96.5 849.3L94.9 850.1L93.4 850.9L91.9 851.6L90.7 852.2L89.6 852.8L88.8 853.2L89.2 854.2L90.1 853.9L91.2 853.4L92.6 853.0L94.0 852.4L95.6 851.8L97.3 851.1L99.1 850.5L100.8 849.8L102.5 849.2L104.2 848.5L105.7 848.0L107.2 847.4L108.6 846.8L110.0 846.2L111.4 845.7L112.7 845.1L114.1 844.5L115.5 844.0L116.9 843.5L118.5 843.1L120.0 842.7L121.8 842.4L123.0 842.1L124.4 841.9L125.8 841.8L127.3 841.6L128.9 841.5L130.5 841.3L132.1 841.2L133.7 841.1L135.4 841.0L137.0 840.9L138.6 840.9L140.1 840.8L141.6 840.8L143.1 840.7L144.4 840.6L145.7 840.6L147.7 840.5L149.4 840.5L151.0 840.5L152.5 840.5L153.9 840.5L155.2 840.6L156.7 840.6L158.2 840.7L159.9 840.8L161.3 840.9L162.8 841.0L164.3 841.1L165.8 841.2L167.4 841.3L169.0 841.4L170.6 841.5L172.2 841.7L173.7 841.8L175.2 841.9L176.6 842.0L177.9 842.1L179.7 842.2L181.3 842.4L182.7 842.5L184.1 842.5L185.5 842.6L186.8 842.7L188.3 842.9L189.8 843.0L191.3 843.3L192.8 843.6L194.5 843.9L196.2 844.2L198.0 844.5L199.6 844.8L201.2 845.1L202.6 845.4L203.8 845.7L204.7 846.0ZM88.5 853.7a0.50 0.50 0 1 0 1.00 0a0.50 0.50 0 1 0 -1.00 0ZM200.0 841.0a5.00 5.00 0 1 0 10.00 0a5.00 5.00 0 1 0 -10.00 0Z"/><path d="M122.0 839.0L121.1 838.7L119.9 838.2L118.5 837.7L117.0 837.1L115.3 836.4L113.4 835.8L111.6 835.0L109.7 834.3L108.4 833.8L106.9 833.3L105.3 832.7L103.6 832.1L101.9 831.5L100.2 830.9L98.5 830.3L96.9 829.7L95.5 829.2L94.2 828.7L93.1 828.3L92.2 828.0L91.8 829.0L92.6 829.4L93.7 829.9L94.9 830.5L96.3 831.2L97.9 831.9L99.5 832.6L101.1 833.4L102.8 834.1L104.4 834.9L105.9 835.6L107.4 836.3L108.7 836.9L110.5 837.7L112.3 838.5L114.1 839.2L115.8 840.0L117.3 840.7L118.7 841.3L119.9 841.8L120.8 842.2ZM91.5 828.5a0.50 0.50 0 1 0 1.00 0a0.50 0.50 0 1 0 -1.00 0ZM119.7 840.6a1.70 1.70 0 1 0 3.40 0a1.70 1.70 0 1 0 -3.40 0Z"/><path d="M146.6 836.5L145.8 836.0L144.8 835.4L143.6 834.7L142.3 833.8L140.9 833.0L139.4 832.0L137.9 831.1L136.4 830.1L135.0 829.1L133.6 828.2L132.4 827.3L131.1 826.4L129.8 825.4L128.4 824.3L127.1 823.2L125.8 822.1L124.5 821.1L123.4 820.1L122.3 819.3L121.5 818.6L120.7 818.0L120.1 818.8L120.6 819.4L121.4 820.3L122.3 821.3L123.3 822.4L124.4 823.6L125.6 824.8L126.8 826.1L128.1 827.3L129.3 828.5L130.6 829.7L131.8 830.7L133.2 831.7L134.6 832.7L136.1 833.7L137.6 834.8L139.1 835.8L140.5 836.7L141.8 837.6L142.9 838.3L143.9 839.0L144.6 839.5ZM119.9 818.4a0.50 0.50 0 1 0 1.00 0a0.50 0.50 0 1 0 -1.00 0ZM143.8 838.0a1.80 1.80 0 1 0 3.60 0a1.80 1.80 0 1 0 -3.60 0Z"/><path d="M173.5 837.3L172.8 836.5L171.8 835.5L170.7 834.3L169.5 832.9L168.4 831.6L167.4 830.3L166.6 829.2L166.1 828.0L165.8 826.7L165.6 825.2L165.2 823.5L164.4 821.6L163.0 819.9L161.7 819.0L160.3 818.1L158.8 817.3L157.1 816.4L155.4 815.6L153.6 814.8L151.9 814.0L150.3 813.3L148.9 812.7L147.7 812.2L146.8 811.9L146.4 812.7L147.2 813.3L148.3 814.0L149.6 814.8L151.1 815.6L152.7 816.5L154.3 817.5L155.9 818.5L157.4 819.5L158.8 820.4L159.9 821.4L160.6 822.1L161.6 823.3L162.0 824.5L162.2 825.8L162.4 827.3L162.7 829.0L163.4 830.8L164.4 832.4L165.5 833.9L166.7 835.4L167.9 836.8L169.0 838.1L169.9 839.1L170.5 839.9ZM146.1 812.3a0.50 0.50 0 1 0 1.00 0a0.50 0.50 0 1 0 -1.00 0ZM170.0 838.6a2.00 2.00 0 1 0 4.00 0a2.00 2.00 0 1 0 -4.00 0Z"/><path d="M161.5 822.5L160.4 822.9L159.0 823.5L157.4 824.1L155.5 824.6L153.6 825.0L152.2 825.2L150.5 825.3L148.6 825.4L146.7 825.4L144.8 825.4L143.1 825.4L141.7 825.4L140.6 825.5L140.6 826.5L141.6 826.6L143.0 826.8L144.7 827.0L146.6 827.2L148.5 827.4L150.4 827.5L152.2 827.6L153.8 827.6L156.1 827.3L158.2 826.8L160.0 826.3L161.5 825.8L162.5 825.5ZM140.1 826.0a0.50 0.50 0 1 0 1.00 0a0.50 0.50 0 1 0 -1.00 0ZM160.4 824.0a1.60 1.60 0 1 0 3.20 0a1.60 1.60 0 1 0 -3.20 0Z"/><path d="M175.3 839.7L174.5 840.0L173.4 840.4L172.2 840.9L170.7 841.4L169.2 842.0L167.6 842.6L165.9 843.2L164.1 843.8L162.4 844.5L160.8 845.1L159.2 845.7L157.7 846.2L156.3 846.7L155.1 847.1L153.2 847.8L151.8 848.4L150.7 848.9L149.7 849.3L148.7 849.7L147.4 850.0L145.4 850.2L144.3 850.4L142.8 850.5L141.2 850.6L139.5 850.7L137.7 850.8L135.8 850.8L133.9 850.9L132.0 850.9L130.2 851.0L128.5 851.0L126.9 851.0L125.5 851.1L124.3 851.1L123.4 851.2L123.4 852.2L124.3 852.3L125.5 852.4L126.9 852.5L128.5 852.6L130.2 852.7L132.0 852.8L133.9 852.9L135.8 853.0L137.7 853.1L139.5 853.1L141.3 853.2L142.9 853.2L144.4 853.2L145.8 853.2L147.8 853.0L149.4 852.7L150.7 852.3L151.9 851.9L153.1 851.5L154.4 850.9L156.3 850.3L157.4 849.9L158.8 849.5L160.3 849.0L161.9 848.4L163.6 847.9L165.4 847.3L167.1 846.7L168.8 846.1L170.5 845.6L172.0 845.0L173.5 844.6L174.7 844.1L175.8 843.8L176.7 843.5ZM122.9 851.7a0.50 0.50 0 1 0 1.00 0a0.50 0.50 0 1 0 -1.00 0ZM174.0 841.6a2.00 2.00 0 1 0 4.00 0a2.00 2.00 0 1 0 -4.00 0Z"/><path d="M146.8 850.1L146.1 851.1L145.3 852.4L144.2 853.9L143.1 855.4L142.0 856.7L140.9 857.7L139.6 858.6L138.1 859.3L136.4 859.9L134.8 860.5L133.4 860.9L132.4 861.3L132.6 862.3L133.7 862.1L135.1 861.9L136.9 861.7L138.8 861.2L140.6 860.7L142.3 859.9L143.8 858.6L145.2 857.1L146.5 855.5L147.6 854.0L148.5 852.8L149.2 851.9ZM132.0 861.8a0.50 0.50 0 1 0 1.00 0a0.50 0.50 0 1 0 -1.00 0ZM146.5 851.0a1.50 1.50 0 1 0 3.00 0a1.50 1.50 0 1 0 -3.00 0Z"/><path d="M222.2 841.5L223.2 841.2L224.6 840.9L226.2 840.6L228.1 840.3L230.1 839.9L232.2 839.6L233.6 839.5L235.1 839.4L236.7 839.3L238.4 839.2L240.1 839.1L241.9 838.9L243.8 838.7L245.6 838.5L247.4 838.2L249.1 837.8L250.8 837.3L252.6 836.7L254.4 836.2L256.1 835.6L257.8 835.0L259.3 834.4L260.6 833.9L261.7 833.5L262.6 833.2L261.2 828.8L260.3 829.1L259.1 829.4L257.7 829.8L256.2 830.3L254.6 830.8L252.9 831.3L251.1 831.8L249.5 832.2L247.9 832.6L246.4 832.8L244.8 833.0L243.2 833.2L241.5 833.3L239.9 833.3L238.2 833.4L236.5 833.4L234.9 833.4L233.3 833.4L231.8 833.4L229.8 833.3L227.8 833.2L225.9 833.0L224.2 832.9L222.8 832.7L221.8 832.5ZM259.6 831.0a2.30 2.30 0 1 0 4.60 0a2.30 2.30 0 1 0 -4.60 0ZM217.5 837.0a4.50 4.50 0 1 0 9.00 0a4.50 4.50 0 1 0 -9.00 0Z"/><path d="M263.7 831.1L264.2 830.3L264.9 829.2L265.8 827.8L266.7 826.2L267.7 824.6L268.6 823.0L269.3 821.3L269.7 819.5L269.8 817.7L269.8 816.2L269.8 814.9L270.1 813.7L270.8 812.2L271.4 811.3L272.4 810.1L273.5 808.8L274.8 807.5L276.1 806.1L277.5 804.8L278.9 803.5L280.2 802.3L281.3 801.2L282.3 800.2L282.9 799.5L282.3 798.7L281.5 799.3L280.4 800.1L279.1 801.0L277.7 802.0L276.2 803.2L274.6 804.4L273.1 805.6L271.6 806.9L270.2 808.1L269.0 809.2L268.0 810.4L266.9 812.4L266.3 814.4L266.2 816.1L266.2 817.6L266.1 818.9L265.7 820.1L265.1 821.2L264.3 822.7L263.4 824.1L262.4 825.6L261.5 826.9L260.7 828.0L260.1 828.9ZM282.1 799.1a0.50 0.50 0 1 0 1.00 0a0.50 0.50 0 1 0 -1.00 0ZM259.8 830.0a2.10 2.10 0 1 0 4.20 0a2.10 2.10 0 1 0 -4.20 0Z"/><path d="M268.6 815.5L269.5 815.8L270.8 816.2L272.5 816.8L274.5 817.1L276.9 817.1L279.3 816.4L280.6 815.7L281.9 814.9L283.3 813.9L284.7 812.8L286.2 811.6L287.7 810.4L289.2 809.1L290.7 807.9L292.0 806.7L293.3 805.6L294.4 804.7L295.3 803.8L296.0 803.2L295.4 802.4L294.6 802.9L293.6 803.6L292.4 804.5L291.0 805.5L289.6 806.5L288.0 807.6L286.5 808.7L284.9 809.8L283.3 810.8L281.9 811.8L280.5 812.6L279.2 813.2L278.3 813.6L276.4 814.1L274.8 814.1L273.2 813.8L271.8 813.3L270.5 812.8L269.4 812.5ZM295.2 802.8a0.50 0.50 0 1 0 1.00 0a0.50 0.50 0 1 0 -1.00 0ZM267.4 814.0a1.60 1.60 0 1 0 3.20 0a1.60 1.60 0 1 0 -3.20 0Z"/><path d="M262.3 832.0L263.1 831.8L264.1 831.7L265.3 831.5L266.7 831.3L268.2 831.1L269.8 830.9L271.4 830.7L273.1 830.4L274.9 830.2L276.7 829.9L278.4 829.5L280.1 829.2L281.8 828.8L283.4 828.4L284.9 827.9L286.4 827.4L287.9 826.7L289.4 826.1L290.8 825.3L292.2 824.6L293.5 823.8L294.9 823.0L296.2 822.2L297.5 821.5L298.7 820.7L300.0 820.0L301.2 819.3L302.5 818.7L303.7 818.2L305.2 817.6L306.8 817.0L308.5 816.4L310.1 815.9L311.8 815.4L313.5 814.9L315.1 814.4L316.6 814.0L318.0 813.6L319.2 813.3L320.3 813.0L321.1 812.7L320.9 811.7L320.0 811.9L318.9 812.0L317.7 812.2L316.2 812.5L314.7 812.7L313.1 813.0L311.3 813.4L309.6 813.7L307.8 814.2L306.1 814.6L304.3 815.1L302.7 815.6L301.3 816.1L300.0 816.7L298.6 817.4L297.3 818.1L296.0 818.8L294.6 819.6L293.3 820.3L292.0 821.1L290.7 821.8L289.3 822.5L288.0 823.1L286.6 823.7L285.3 824.2L283.9 824.7L282.5 825.1L281.0 825.4L279.4 825.7L277.8 826.0L276.1 826.3L274.4 826.6L272.6 826.8L270.9 827.0L269.3 827.2L267.7 827.4L266.2 827.5L264.9 827.7L263.6 827.8L262.6 827.9L261.7 828.0ZM320.5 812.2a0.50 0.50 0 1 0 1.00 0a0.50 0.50 0 1 0 -1.00 0ZM260.0 830.0a2.00 2.00 0 1 0 4.00 0a2.00 2.00 0 1 0 -4.00 0Z"/><path d="M297.5 825.4L298.4 825.4L299.6 825.5L301.1 825.6L302.8 825.8L304.5 825.9L306.4 826.0L308.2 826.0L309.9 826.0L311.5 825.9L313.0 825.5L314.9 824.6L316.5 823.2L317.9 821.7L318.9 820.2L319.8 819.0L320.4 818.1L319.6 817.5L318.8 818.2L317.8 819.3L316.6 820.6L315.3 821.7L313.8 822.7L312.2 823.3L311.2 823.4L309.8 823.5L308.2 823.5L306.5 823.4L304.7 823.3L303.0 823.2L301.4 823.0L299.9 822.8L298.6 822.7L297.7 822.6ZM319.5 817.8a0.50 0.50 0 1 0 1.00 0a0.50 0.50 0 1 0 -1.00 0ZM296.2 824.0a1.40 1.40 0 1 0 2.80 0a1.40 1.40 0 1 0 -2.80 0Z"/><path d="M261.7 834.0L262.5 834.1L263.5 834.2L264.7 834.4L266.1 834.6L267.5 834.9L269.1 835.1L270.8 835.4L272.5 835.6L274.2 835.9L276.0 836.2L277.7 836.4L279.4 836.7L281.1 836.9L282.7 837.1L284.2 837.3L285.9 837.5L287.5 837.7L289.2 837.9L290.8 838.0L292.4 838.2L294.1 838.4L295.7 838.5L297.3 838.6L298.9 838.7L300.5 838.8L302.0 838.8L303.5 838.8L305.0 838.8L306.8 838.6L308.7 838.4L310.5 838.1L312.3 837.7L314.1 837.3L315.8 836.9L317.4 836.5L318.8 836.1L320.1 835.7L321.2 835.4L322.1 835.2L321.9 834.2L321.0 834.3L319.9 834.5L318.5 834.7L317.1 834.9L315.5 835.2L313.8 835.5L312.0 835.7L310.2 835.9L308.4 836.1L306.7 836.2L305.0 836.2L303.5 836.2L302.1 836.1L300.6 836.1L299.1 836.0L297.5 835.8L296.0 835.7L294.4 835.5L292.8 835.3L291.2 835.0L289.5 834.8L287.9 834.6L286.3 834.3L284.6 834.1L283.1 833.9L281.6 833.6L279.9 833.4L278.2 833.1L276.5 832.8L274.8 832.4L273.1 832.1L271.4 831.8L269.8 831.5L268.2 831.2L266.7 830.9L265.4 830.6L264.2 830.4L263.2 830.2L262.3 830.0ZM321.5 834.7a0.50 0.50 0 1 0 1.00 0a0.50 0.50 0 1 0 -1.00 0ZM260.0 832.0a2.00 2.00 0 1 0 4.00 0a2.00 2.00 0 1 0 -4.00 0Z"/><path d="M262.5 836.4L263.1 836.9L263.9 837.7L264.9 838.7L266.0 839.8L267.2 841.0L268.5 842.2L269.9 843.4L271.3 844.5L272.8 845.5L274.2 846.4L275.6 847.1L277.0 847.8L278.5 848.3L280.0 848.9L281.5 849.4L283.0 849.8L284.6 850.2L286.3 850.5L288.0 850.8L289.8 851.0L291.4 851.1L293.0 851.1L294.8 851.1L296.6 851.1L298.5 851.0L300.4 850.9L302.2 850.8L304.0 850.7L305.7 850.6L307.2 850.5L308.6 850.4L309.8 850.3L310.7 850.2L310.7 849.2L309.8 849.2L308.6 849.1L307.2 849.1L305.6 849.1L304.0 849.1L302.2 849.1L300.3 849.1L298.5 849.1L296.6 849.0L294.8 848.9L293.1 848.8L291.6 848.6L290.2 848.4L288.5 848.1L286.8 847.8L285.3 847.4L283.8 847.0L282.3 846.6L281.0 846.1L279.6 845.5L278.3 845.0L277.0 844.3L275.8 843.6L274.6 842.8L273.4 841.9L272.1 840.8L270.9 839.6L269.7 838.5L268.6 837.3L267.5 836.2L266.6 835.2L265.8 834.3L265.1 833.6ZM310.2 849.7a0.50 0.50 0 1 0 1.00 0a0.50 0.50 0 1 0 -1.00 0ZM261.9 835.0a1.90 1.90 0 1 0 3.80 0a1.90 1.90 0 1 0 -3.80 0Z"/></g></g>
<circle cx="214.8" cy="838.1" r="12.3" fill="#e2566f"/>
<circle cx="213.4" cy="841.6" r="4.1" fill="#8c0818"/>
</g>
</defs>
<rect x="8" y="25" width="339" height="900" fill="#fbeaee"/>
<rect x="347" y="25" width="339" height="901" fill="url(#gbg)"/>
<!-- LEFT MOUSE (curled) -->
<g id="mouseL">
<path d="M212.7 116.5 C222 120 234 126.5 238.5 134 C240.5 139 238 142.5 232.5 142.8 C222 142 200 138 179.2 133.9" fill="none" stroke="#c8466c" stroke-width="3.4" stroke-linecap="round"/>
<path d="M95 92 C99 85 104 81.5 108 79.5 C113 76.5 118 74.5 123.3 73 C129 71 135 69.8 140.6 69 C150 68.4 158 68.3 166.6 68.7 C175 69 182 69.8 188 70.8 C193 72.5 197 74.5 201 77.3 C206 80 210.5 83 214 86 C218 90 220.5 94 220.7 99 C221 103 220 107 218.5 109.8 C216 113 213 115.5 210 117.4 C205 120.5 199 123 192.6 125 C187.5 127 182 129 177.4 130.3 C172 131.5 167 132.2 162 132.5 C156 132.7 150 132.6 145 132.5 C140 133 135 134 129.8 134.7 C125 135.5 119.5 136.5 114.6 136.8 C110 137 105.5 136.8 101.6 135.8 C97.5 134.5 95 133 93 131.4 C91 129 90 126 89.7 122.8 C89 118 88.7 114 88.7 109.8 C89 106 90 103 91 101 Z" fill="#2f2f2f"/>
<circle cx="93" cy="97.9" r="8.6" fill="#2f2f2f"/>
<path d="M85.5 100 C85.5 93 90 89.5 95 89.5" fill="none" stroke="#4a4a4a" stroke-width="0.9"/>
<path d="M192 80.5 C204 85 212.5 94 213.5 102 C214 109 211 114 205 118.5 C197 123 188 126.5 176 129.5" fill="none" stroke="#0a0a0a" stroke-width="3.2"/>
<ellipse cx="95" cy="126" rx="5.5" ry="3.2" fill="#f4a07e"/>
<ellipse cx="100" cy="134" rx="7" ry="3" fill="#f4a07e"/>
<ellipse cx="123" cy="126.5" rx="9.5" ry="4.5" fill="#f4a07e"/>
<ellipse cx="168" cy="132.5" rx="9" ry="3.2" fill="#f4a07e"/>
<ellipse cx="115" cy="135.5" rx="3.6" ry="2.6" fill="#c0182e"/>
<radialGradient id="earL" cx="0.4" cy="0.5" r="0.55"><stop offset="0" stop-color="#9c1a2c"/><stop offset="0.6" stop-color="#7a1626"/><stop offset="1" stop-color="#3a1e22"/></radialGradient>
<ellipse cx="140.6" cy="107.8" rx="10.5" ry="7.8" fill="url(#earL)"/>
<path d="M113.4 104.5 C118 104.6 122 104.8 126.6 105 C128.5 102.5 130.5 101 133.1 100.3 C136 99 139 98.3 142.5 98 C145.5 97.6 148 97.4 151 97.5 C154 98.5 156.5 100 157.5 102.2 C158.5 104 158.7 106 158.5 107.8 C157.5 110 156 111.5 153.8 112.5 C150 114.5 146 116 142.5 116.7 C138.5 117.2 135 117.4 131.3 117.2 C128.5 116.5 126 115.5 124.7 114.4 C123.8 113.5 123.6 112.5 123.8 111.6" fill="none" stroke="#000" stroke-width="1.4"/>
<path d="M152 98.8 C156 100.5 159.5 102.5 160 105.5 C160.5 108.5 159 110.5 157.5 111.8" fill="none" stroke="#000" stroke-width="1.1"/>
<g fill="none" stroke="#111" stroke-width="1.1">
<path d="M103 68 C106 69.5 110 69 114 67 C120 64 124 59 130 57.3 C134 56.5 138 56.7 141 57"/>
<path d="M103 73 C107 74.5 111 73.8 115 71.5 C121 68 124 64 130 62.5 C134 61.7 138 62 141 62.3"/>
<path d="M160 62 C164 59 168 57 172 57 C178 57 182 60.5 187 60.8 C191 61 195 59 198 56.3"/>
<path d="M163 66 C167 63 171 62 175 62 C181 62 184 65.5 189 65.5 C194 65.5 198 63 202 60.3"/>
</g>
</g>

<!-- RIGHT MOUSE -->
<g id="mouseR">
<path d="M592 118.4 C600 119 610 121.5 617.5 121 C625 120.5 633 118 640.8 118.4 C648 119 660 123 667.5 126.9 C662 125.8 657 124.3 653.8 123.8 C648 122.8 644 121.2 639.5 121.6 C632 122.2 628 123.2 624 123.6 C618 124.3 614 125 611 124.8 C605 124.4 599 123.6 592 123.8 Z" fill="#c8466c"/>
<path d="M527.3 133 C545 131 570 130.5 588.6 131 C590 136 586 140.5 576 141.3 C560 141.8 540 141 530 140 C527 139 526 136 527.3 133 Z" fill="#3c3c3c"/><path d="M531 133.5 C545 132.8 560 132.6 575 133" stroke="#666" stroke-width="0.8" fill="none"/>
<path d="M484 124 C488 122.5 494 123 497 125.5 C498 129 494 131 488 130.7 C484.5 130 483 127 484 124 Z" fill="#3a3a3a"/>
<path d="M494 132.5 C502 131 512 131 520 133 C521.5 137 516 139.8 508 139.8 C500 139.6 494 137.5 494 132.5 Z" fill="#3a3a3a"/>
<path d="M439.1 91.6 C440.5 88.5 443 86.5 445.6 85 C450 81.5 454 78.5 458.6 76 C464 73 469.5 71 475.5 69.5 C480 68.2 485 67.4 490 67 C496 66.8 502 67 508 66.9 C514 66 520 64.3 526 63.5 C532 63 538 62.8 544.3 63 C552 64.5 559 67.5 565 70.8 C572 74.5 578 79 583 83.8 C588 89 591.5 94 593.6 99.4 C595.3 104.5 595.5 110 595 115 C594.5 119 593 122.5 591 125.3 C587 129 581.5 130.8 575.5 131.8 C570 132.7 565 133 560 133 C550 133.2 539 133.2 529 133 C522 132.3 515 131 508 129.2 C502 127.2 497 125 492.3 122.7 C488.5 120.5 485 118 482 115 C476 111 470 108.3 463.8 105.8 C457.5 103.5 451.5 101.5 445.6 99.4 C443 98.3 441 97 440 95.5 C439 94.3 438.8 93 439.1 91.6 Z" fill="#333"/>

<circle cx="484.5" cy="63" r="8" fill="#333"/>
<ellipse cx="498" cy="73.5" rx="10.5" ry="11.5" fill="#333"/>
<path d="M497 62 C507 62 511 72 507 79 C504 84 498 85.5 494 86" fill="none" stroke="#111" stroke-width="1.4"/>
<radialGradient id="earR" cx="0.5" cy="0.5" r="0.5"><stop offset="0" stop-color="#9a1c30"/><stop offset="0.55" stop-color="#7a2230"/><stop offset="1" stop-color="#333"/></radialGradient><ellipse cx="494" cy="73.5" rx="6" ry="6" fill="url(#earR)"/>
<circle cx="467.8" cy="85" r="2.9" fill="#0b0b0b"/>
<circle cx="468.6" cy="84.3" r="1" fill="#fff"/>
<path d="M438.5 89 C440 86.5 443 86 444.5 88 C445 91 443 94 440 94 C438.5 93 438 91 438.5 89 Z" fill="#c0203a"/>
<path d="M441 96 C446 98 451 99 455 98.5 C452 100.5 446 100.5 441 96 Z" fill="#c0203a"/>
<g stroke="#666" stroke-width="0.6" fill="none">
<path d="M455 99 L472 104"/><path d="M456 100 L468 107"/><path d="M453 100 L460 108"/>
</g>
</g>



<!-- BRAIN -->
<g id="brain">
<path d="M216.8 207 C218 202 224 195 232 192 C250 187 280 183 305 182 C330 181 350 180.5 365 181 C378 181.5 390 183 394 186.5 C397 189 395 192 396.5 194.5 C398 196 405 195.5 412 195.5 C418 196 422 197 426.9 194.6 C430 193.5 432 193 433.7 193.2 C437 191.5 440 190.5 443.3 190.5 C448 190 452 190 455.6 190.5 C459 192 461 194 462.5 196 C464 196.5 465 196 466.6 196 C470 197 473 198.5 476.2 200.1 C480 203 484 206 487.2 209.7 C489 212 491 214 492.7 216.5 C495 218.5 497 220 498.1 222 C500 225 501.5 228 502.2 231.6 C503.5 234.5 504.5 237 505 239.8 C506 242.5 507 245 507.7 248.1 C508.5 251 509 253.5 509.1 256.3 C509 259 508.5 261 507.7 263.1 C506 264.5 504 265.5 502.2 265.9 C506 270 510 275 512.5 281 C514.5 287 514.5 293 511 299 C506 304 500 306 495.4 306.7 C485 308.5 475 309.5 464.3 309.9 C450 310 438 309.5 425.3 308.7 C415 307.5 405 306.5 398 304.8 C392 303 389 301 388.3 297 C388 293 388.5 289 385.5 286.8 C382 285.5 379 286.5 377 289 C375 292 372 295 366.9 297 C360 300 352 302 347.4 302.9 C335 304.5 320 305 308.4 304.8 C295 304.5 283 304.5 274.3 303.9 C269 302.5 265 301 262.2 299.8 C257 298 253 296 250 294.8 C244 293 239 291.5 235.9 289.7 C233 287.5 231.5 285.5 229.8 283.7 C228 281.5 226.5 280.2 224.8 279.6 C221 278.8 217 278.5 213.7 277.6 C209 275.5 205 273 201.6 270.6 C196 267.5 190 264.5 185.4 261.5 C180 258 175.5 255 171.3 251.4 C166 247.5 161 243.5 157 239.2 C153.5 236 151 233 150 230 C149 225 148.5 220 149.5 215 C151 210 155 207 160 205.5 C170 202 185 201.5 200 202.5 C207 203 213 204.5 216.8 207 Z" fill="rgb(249,225,206)" fill-opacity="0.55" stroke="#222" stroke-width="0.9"/>
<path d="M216.8 207 C220 216 224 227 227.7 237.6" fill="none" stroke="#222" stroke-width="0.9"/>
<!-- corpus callosum outline -->
<path d="M268 244 C264 238 266 231 274 227.5 C290 221 320 213 346.6 206.3 C353 205 361 205.5 366.4 210.8 C368 213.5 363 214.5 354 213.5 C340 214 330 217 325 219" fill="none" stroke="#222" stroke-width="0.8"/>
<path d="M379 213.5 C372 219 365 224 358 227 C345 231 332 233 325 237 C318 242 316 250 314 257 C312 262 310 265 307 266" fill="none" stroke="#222" stroke-width="0.8"/>
<path d="M341 219.2 C346 221.5 350 223.5 354.3 225.6" fill="none" stroke="#222" stroke-width="0.7"/>
<!-- ventricle black -->
<path d="M268 244 C266 239 269 236 274 233.5 L290 225.2 L310 219.5 L323.3 215.6 L322 219.5 L316 232 L311 244 L307.5 248.5 L303 246.5 L306 237 L310.5 224 L300 231.5 L290 240.4 L280 246.5 C275 249 270 248 268 244 Z" fill="#0d0d0d"/>
<path d="M306.5 259.5 L310.2 257.5 L318 244 L325.4 233.6 L335.5 232 L354.6 226.6 L354 225.2 L335.5 229.2 L326.5 228.3 L325 225.5 L322.3 231.3 L315 241 L308.5 249 L305.5 254 Z" fill="#0d0d0d"/>
<path d="M323.3 215.6 C324 219 325 223 326.4 229.2" fill="none" stroke="#222" stroke-width="0.7"/>
<!-- small structures -->
<ellipse cx="299" cy="273.5" rx="5.2" ry="3.4" transform="rotate(-25 299 273.5)" fill="none" stroke="#222" stroke-width="0.8"/>
<path d="M308.5 265.5 C311 270 314 275 316.6 280.5 C313 278 310 272 308.5 265.5 Z" fill="none" stroke="#222" stroke-width="0.8"/>
<path d="M325.8 260.8 C326 268 332 276 342 282 C348 285 354 287 357 286 C352 283 345 279 338 273 C332 268 328 264 325.8 260.8 Z" fill="none" stroke="#222" stroke-width="0.8"/>
<path d="M347.4 293 L370.8 293" fill="none" stroke="#222" stroke-width="0.8"/>
<!-- cerebellum -->
<path d="M431 217.9 C427 221 425.5 224 425 228 C424 233 424 240 428.2 245.3 C432 250 437 254 440.6 260.4 C448 260.6 458 260.4 469.3 261.8 C466 258 462 255 459.8 252.2 C458 249 457.5 247 457 246.7 C452 247.5 446 248.5 441.9 248.7 C438 247 436 245.5 435.1 244 C431 240 430 235 430.3 228.9 C430.5 225 431.5 222 433 219.3 Z" fill="#0d0d0d"/>
<g fill="none" stroke="#222" stroke-width="0.8">
<path d="M433.7 193.2 C436.5 195 438 197 438.5 200 C439 204 439 207 438.5 209.7 C437.5 213 436.5 215 435 216.5"/>
<path d="M448.1 196 C451 199 453.5 202 455.6 205.6 C458 211 460 215 461.1 219.3 C462 222 462 224 462.5 226.1 C463.5 228.5 465 230 466.6 230.2 C470 230.5 472.5 230 474.8 228.9 C477 226 478.5 223.5 478.9 220.6 C479 217 478.5 214 477.6 211 C475.5 207.5 473 205 470.7 202.8"/>
<path d="M451.5 197.3 C454.5 200.5 457.5 204 459.8 208.3 C462 213 464 218 465.2 223.4"/>
<path d="M470.7 202.8 C474 205 477 207 480.3 209 C482 211 483.5 213 484.4 215.2 C484.5 218 484.2 221 483.7 223.4"/>
<path d="M476.2 233 C480 233 484 233 487.2 233 C490.5 232.5 494 232 496.8 231.6"/>
<path d="M477.6 237.1 C482 237.5 487 238 491.3 238.5"/>
<path d="M474.8 239.8 C477 243 479 246 481.7 248.1 C485 250.5 489 252 492.7 253.5 C495.5 254.5 498 255.5 500.9 256.3"/>
<path d="M444.7 217.9 C446 222 447.5 226 448.8 230.2 C449.5 233.5 450 237 450.2 239.8 C451.5 238.5 453 237.5 454.3 237.1 C457.5 236.5 461 236 463.9 235.7"/>
<path d="M436.4 234.3 C440 235.5 444 236.5 447.4 237.1 C448.5 239 449.3 241 449.5 242.6 C449.3 244 449 245.5 448.8 246.7"/>
<path d="M459.8 245.3 C461.5 242 463.5 239.5 465.2 237.1"/>
<path d="M466.6 230.2 C467 233 466.5 235 465.2 237.1 C468 236 472 235 476.2 233"/>
</g>
</g>
<!-- BLA / vCA1 spots -->
<ellipse cx="330.5" cy="293" rx="17.8" ry="11.5" fill="#c45e22"/>
<ellipse cx="374.4" cy="271.5" rx="13.4" ry="9.5" fill="#f0905a"/>
<path d="M344 293.6 C355 293 364 287 370 279" fill="none" stroke="#e01818" stroke-width="1.8"/>
<path d="M366 279 L373 275 L372.5 283 Z" fill="#e01818"/>
<!-- dashed lines -->
<g stroke="#222" stroke-width="1" stroke-dasharray="3 2" fill="none">
<path d="M320 304.4 L226 344"/>
<path d="M409 290.4 L494 338"/>
</g>

<!-- curved arrows -->
<path d="M281.3 112.6 C298 105 318 98.5 338 97.8 C362 97.4 382 101.5 396.5 105.5 L400.5 99.4 L413 112 L395.3 119.3 L393.5 113.5 C380 108.5 360 104 338 103.2 C318 103.5 298 108.5 281.3 112.6 Z" fill="url(#carr)"/>
<path d="M278.8 527.2 C296 517 316 509.5 336 508.4 C360 507.8 382 512 399 518.5 L404.7 510 L414.7 527.2 L397.4 535.1 L396.8 529.3 C382 524.5 360 517.5 338 515.7 C318 515.5 296 521 278.8 527.2 Z" fill="url(#carr)"/>
<!-- small green down arrows -->
<path d="M384.3 55 H391.7 V84.6 H395.4 L388 92 L381 84.6 H384.3 Z" fill="url(#gdown)"/>
<path d="M385.3 465.2 H392.7 V494 H396.3 L389 501 L382 494 H385.3 Z" fill="url(#gdown)"/>
<!-- big green down arrows -->
<path d="M607 476 H624.7 V516 H632.6 L616.2 533 L599.5 516 H607 Z" fill="url(#gdown)"/>
<path d="M650.3 756.4 H668 V795.7 H674.8 L659 813 L643 795.7 H650.3 Z" fill="url(#gdown)"/>
<!-- red up arrows -->
<path d="M149.3 533 V492 H142 L158 476.7 L174 492 H166 V533 Z" fill="url(#rup)"/>
<path d="M126.2 807.4 V767.5 H117 L134.4 752 L151.8 767.5 H142.5 V807.4 Z" fill="url(#rup)"/>



<use href="#blaN"/>
<use href="#blaN" transform="translate(268,-7)"/>
<use href="#vcaN"/>
<use href="#vcaN" transform="translate(273,-7)"/>
<!-- GPR17 patches -->
<g transform="translate(206.0 396.7) rotate(0.0)" stroke="#5e1424" stroke-width="1.2" fill="none"><path d="M-8.0 -8.5 l0.8 5.7 l-0.8 5.7 l0.8 5.7"/><path d="M-6.0 -8.5 l0.8 5.7 l-0.8 5.7 l0.8 5.7"/><path d="M-4.0 -8.5 l0.8 5.7 l-0.8 5.7 l0.8 5.7"/><path d="M-2.0 -8.5 l0.8 5.7 l-0.8 5.7 l0.8 5.7"/><path d="M0.0 -8.5 l0.8 5.7 l-0.8 5.7 l0.8 5.7"/><path d="M2.0 -8.5 l0.8 5.7 l-0.8 5.7 l0.8 5.7"/><path d="M4.0 -8.5 l0.8 5.7 l-0.8 5.7 l0.8 5.7"/><path d="M6.0 -8.5 l0.8 5.7 l-0.8 5.7 l0.8 5.7"/><path d="M8.0 -8.5 l0.8 5.7 l-0.8 5.7 l0.8 5.7"/><path d="M-9.0 -6.8 H9.0" stroke-width="0.9"/><path d="M-9.0 -3.4 H9.0" stroke-width="0.9"/><path d="M-9.0 0.0 H9.0" stroke-width="0.9"/><path d="M-9.0 3.4 H9.0" stroke-width="0.9"/><path d="M-9.0 6.8 H9.0" stroke-width="0.9"/><circle cx="-7.4" cy="-11.0" r="0.6" fill="#3a1018" stroke="none"/><circle cx="-3.4" cy="-11.0" r="0.6" fill="#3a1018" stroke="none"/><circle cx="0.6" cy="-11.0" r="0.6" fill="#3a1018" stroke="none"/><circle cx="4.6" cy="-11.0" r="0.6" fill="#3a1018" stroke="none"/><circle cx="8.6" cy="-11.0" r="0.6" fill="#3a1018" stroke="none"/></g>
<g transform="translate(238.5 421.0) rotate(-25.0)" stroke="#5e1424" stroke-width="1.2" fill="none"><path d="M-8.3 -8.0 l0.8 5.3 l-0.8 5.3 l0.8 5.3"/><path d="M-5.9 -8.0 l0.8 5.3 l-0.8 5.3 l0.8 5.3"/><path d="M-3.6 -8.0 l0.8 5.3 l-0.8 5.3 l0.8 5.3"/><path d="M-1.2 -8.0 l0.8 5.3 l-0.8 5.3 l0.8 5.3"/><path d="M1.2 -8.0 l0.8 5.3 l-0.8 5.3 l0.8 5.3"/><path d="M3.6 -8.0 l0.8 5.3 l-0.8 5.3 l0.8 5.3"/><path d="M5.9 -8.0 l0.8 5.3 l-0.8 5.3 l0.8 5.3"/><path d="M8.3 -8.0 l0.8 5.3 l-0.8 5.3 l0.8 5.3"/><path d="M-9.5 -6.7 H9.5" stroke-width="0.9"/><path d="M-9.5 -4.0 H9.5" stroke-width="0.9"/><path d="M-9.5 -1.3 H9.5" stroke-width="0.9"/><path d="M-9.5 1.3 H9.5" stroke-width="0.9"/><path d="M-9.5 4.0 H9.5" stroke-width="0.9"/><path d="M-9.5 6.7 H9.5" stroke-width="0.9"/><circle cx="-7.6" cy="-10.5" r="0.6" fill="#3a1018" stroke="none"/><circle cx="-2.9" cy="-10.5" r="0.6" fill="#3a1018" stroke="none"/><circle cx="1.9" cy="-10.5" r="0.6" fill="#3a1018" stroke="none"/><circle cx="6.6" cy="-10.5" r="0.6" fill="#3a1018" stroke="none"/></g>
<g transform="translate(476.0 392.7) rotate(0.0)" stroke="#5e1424" stroke-width="1.2" fill="none"><path d="M-8.2 -8.5 l0.8 5.7 l-0.8 5.7 l0.8 5.7"/><path d="M-6.2 -8.5 l0.8 5.7 l-0.8 5.7 l0.8 5.7"/><path d="M-4.1 -8.5 l0.8 5.7 l-0.8 5.7 l0.8 5.7"/><path d="M-2.1 -8.5 l0.8 5.7 l-0.8 5.7 l0.8 5.7"/><path d="M0.0 -8.5 l0.8 5.7 l-0.8 5.7 l0.8 5.7"/><path d="M2.1 -8.5 l0.8 5.7 l-0.8 5.7 l0.8 5.7"/><path d="M4.1 -8.5 l0.8 5.7 l-0.8 5.7 l0.8 5.7"/><path d="M6.2 -8.5 l0.8 5.7 l-0.8 5.7 l0.8 5.7"/><path d="M8.2 -8.5 l0.8 5.7 l-0.8 5.7 l0.8 5.7"/><path d="M-9.2 -6.8 H9.2" stroke-width="0.9"/><path d="M-9.2 -3.4 H9.2" stroke-width="0.9"/><path d="M-9.2 0.0 H9.2" stroke-width="0.9"/><path d="M-9.2 3.4 H9.2" stroke-width="0.9"/><path d="M-9.2 6.8 H9.2" stroke-width="0.9"/><circle cx="-7.6" cy="-11.0" r="0.6" fill="#3a1018" stroke="none"/><circle cx="-3.5" cy="-11.0" r="0.6" fill="#3a1018" stroke="none"/><circle cx="0.6" cy="-11.0" r="0.6" fill="#3a1018" stroke="none"/><circle cx="4.7" cy="-11.0" r="0.6" fill="#3a1018" stroke="none"/><circle cx="8.8" cy="-11.0" r="0.6" fill="#3a1018" stroke="none"/></g>
<g stroke="#111" stroke-width="1.2"><path d="M215 397.5 H233" shape-rendering="crispEdges"/><path d="M240 404 L235.7 412"/><path d="M483 393.5 H507" shape-rendering="crispEdges"/></g>
<circle cx="211.0" cy="359.7" r="3" fill="url(#rdot)"/>
<circle cx="226.9" cy="358.2" r="3" fill="url(#rdot)"/>
<circle cx="206.3" cy="371.0" r="3" fill="url(#rdot)"/>
<circle cx="216.0" cy="370.0" r="3" fill="url(#rdot)"/>
<circle cx="200.6" cy="379.4" r="3" fill="url(#rdot)"/>
<circle cx="215.3" cy="383.5" r="3" fill="url(#rdot)"/>
<circle cx="258.4" cy="417.9" r="3" fill="url(#rdot)"/>
<circle cx="266.7" cy="422.0" r="3" fill="url(#rdot)"/>
<circle cx="274.7" cy="418.8" r="3" fill="url(#rdot)"/>
<circle cx="260.3" cy="427.6" r="3" fill="url(#rdot)"/>
<circle cx="490.0" cy="357.2" r="3" fill="url(#rdot)"/>
<circle cx="486.4" cy="368.0" r="3" fill="url(#rdot)"/>
<circle cx="470.9" cy="375.9" r="3" fill="url(#rdot)"/>
<circle cx="128.9" cy="661.6" r="4.3" fill="url(#gdot)"/>
<circle cx="184.7" cy="652.3" r="4.3" fill="url(#gdot)"/>
<circle cx="160.4" cy="665.9" r="4.3" fill="url(#gdot)"/>
<circle cx="144.8" cy="675.8" r="4.3" fill="url(#gdot)"/>
<circle cx="171.4" cy="684.8" r="4.3" fill="url(#gdot)"/>
<circle cx="199.0" cy="696.4" r="4.3" fill="url(#gdot)"/>
<circle cx="226.8" cy="663.2" r="4.3" fill="url(#gdot)"/>
<circle cx="262.0" cy="660.6" r="4.3" fill="url(#gdot)"/>
<circle cx="220.2" cy="704.0" r="4.3" fill="url(#gdot)"/>
<circle cx="246.0" cy="713.0" r="4.3" fill="url(#gdot)"/>
<circle cx="264.3" cy="693.8" r="4.3" fill="url(#gdot)"/>
<circle cx="458.0" cy="670.4" r="4.3" fill="url(#gdot)"/>
<circle cx="414.9" cy="688.6" r="4.3" fill="url(#gdot)"/>
<circle cx="500.5" cy="699.6" r="4.3" fill="url(#gdot)"/>
<circle cx="527.7" cy="654.1" r="4.3" fill="url(#gdot)"/>
<circle cx="145.8" cy="657.3" r="4.3" fill="url(#odot)"/>
<circle cx="169.7" cy="672.2" r="4.3" fill="url(#odot)"/>
<circle cx="192.3" cy="676.5" r="4.3" fill="url(#odot)"/>
<circle cx="184.7" cy="689.8" r="4.3" fill="url(#odot)"/>
<circle cx="209.6" cy="685.8" r="4.3" fill="url(#odot)"/>
<circle cx="217.9" cy="673.9" r="4.3" fill="url(#odot)"/>
<circle cx="240.1" cy="655.9" r="4.3" fill="url(#odot)"/>
<circle cx="230.1" cy="688.1" r="4.3" fill="url(#odot)"/>
<circle cx="239.4" cy="695.8" r="4.3" fill="url(#odot)"/>
<circle cx="164.8" cy="701.4" r="4.3" fill="url(#odot)"/>
<circle cx="202.3" cy="709.0" r="4.3" fill="url(#odot)"/>
<circle cx="424.8" cy="660.4" r="4.3" fill="url(#odot)"/>
<circle cx="440.4" cy="674.7" r="4.3" fill="url(#odot)"/>
<circle cx="474.6" cy="679.7" r="4.3" fill="url(#odot)"/>
<circle cx="462.4" cy="694.6" r="4.3" fill="url(#odot)"/>
<circle cx="502.8" cy="653.1" r="4.3" fill="url(#odot)"/>
<!-- top texts -->
<text x="111" y="170" font-size="21.5" textLength="81" lengthAdjust="spacing" fill="#111" stroke="#111">Anxiety</text>
<text x="480" y="170.3" font-size="21.8" textLength="109" lengthAdjust="spacing" fill="#111" stroke="#111">Anxiolytic</text>
<text x="301" y="80.5" font-size="22" textLength="72" lengthAdjust="spacing" fill="#e2060f" stroke="#e2060f">GPR17</text>

<!-- middle texts -->
<text x="303" y="493" font-size="22" textLength="73" lengthAdjust="spacing" fill="#e2060f" stroke="#e2060f">GPR17</text>


<!-- labels -->
<text x="36" y="515.7" font-size="21" textLength="44" lengthAdjust="spacing" fill="#111" stroke="#111">BLA</text>
<text x="82.6" y="510.3" font-size="14.5" textLength="61.3" lengthAdjust="spacing" fill="#111" stroke="#111">CaMKII<tspan font-style="italic">α</tspan></text>
<text x="491.8" y="512" font-size="21" textLength="44.6" lengthAdjust="spacing" fill="#111" stroke="#111">BLA</text>
<text x="538.9" y="506" font-size="14.5" textLength="60.6" lengthAdjust="spacing" fill="#111" stroke="#111">CaMKII<tspan font-style="italic">α</tspan></text>
<text x="18.7" y="791.6" font-size="21" textLength="56.3" lengthAdjust="spacing" fill="#111" stroke="#111">vCA1</text>
<text x="77.5" y="785.3" font-size="14" textLength="36.5" lengthAdjust="spacing" fill="#111" stroke="#111">PyNs</text>
<text x="543.8" y="789.8" font-size="21" textLength="56.2" lengthAdjust="spacing" fill="#111" stroke="#111">vCA1</text>
<text x="602.7" y="783.5" font-size="14" textLength="37.8" lengthAdjust="spacing" fill="#111" stroke="#111">PyNs</text>
<text x="277" y="300" font-size="16.5" textLength="35" lengthAdjust="spacing" fill="#111" stroke="#111">BLA</text>
<text x="393.4" y="279" font-size="16" textLength="43.3" lengthAdjust="spacing" fill="#111" stroke="#111">vCA1</text>
<text x="237.2" y="403.8" font-size="16" textLength="57.2" lengthAdjust="spacing" fill="#e2060f" stroke="#e2060f">GPR17</text>
<text x="509.8" y="400" font-size="16" textLength="55.9" lengthAdjust="spacing" fill="#e2060f" stroke="#e2060f">GPR17</text>
<text x="248.7" y="680.5" font-size="16" textLength="27.3" lengthAdjust="spacing" fill="#111" stroke="#111">Glu</text>
<text x="294" y="700.4" font-size="16" textLength="20" lengthAdjust="spacing" fill="#111" stroke="#111">Ca</text>
<text x="314.5" y="693" font-size="11" fill="#111" stroke="#111">2+</text>
<text x="508.5" y="684.6" font-size="16" textLength="28.2" lengthAdjust="spacing" fill="#111" stroke="#111">Glu</text>
<text x="560" y="663.7" font-size="16" textLength="20" lengthAdjust="spacing" fill="#111" stroke="#111">Ca</text>
<text x="580.5" y="656.5" font-size="11" fill="#111" stroke="#111">2+</text>
<g stroke="#111" stroke-width="1.3" shape-rendering="crispEdges">
<line x1="226" y1="673.5" x2="242.8" y2="673.5"/>
<line x1="272.6" y1="694.5" x2="289" y2="694.5"/>
<line x1="486" y1="678.5" x2="502.8" y2="678.5"/>
<line x1="537.7" y1="656.5" x2="555.3" y2="656.5"/>
</g>


</svg>
</body></html>
